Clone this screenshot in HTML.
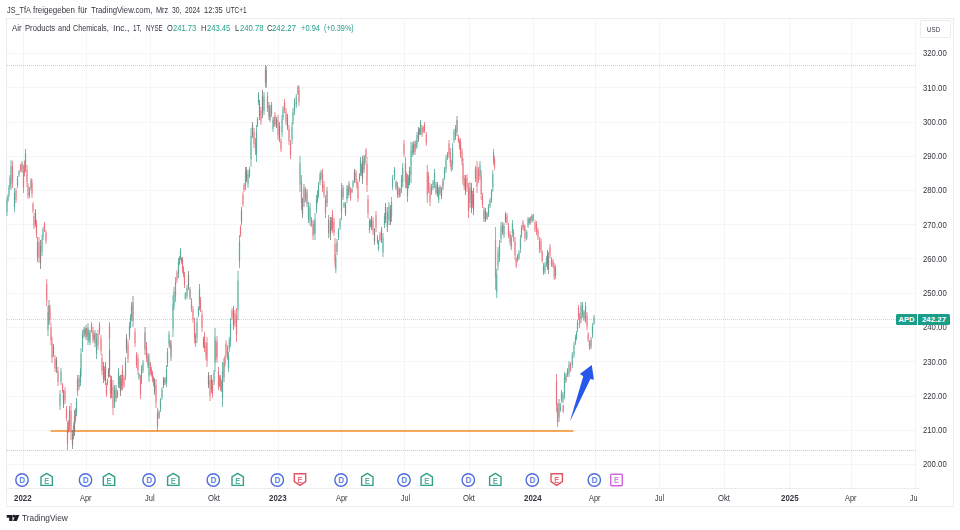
<!DOCTYPE html>
<html><head><meta charset="utf-8"><title>APD</title>
<style>
html,body{margin:0;padding:0;background:#fff;}
body{width:960px;height:530px;position:relative;overflow:hidden;font-family:"Liberation Sans",sans-serif;color:#33363f;}
.t{position:absolute;white-space:nowrap;line-height:10px;transform-origin:0 0;filter:blur(0.3px);}
#frame{position:absolute;left:6px;top:18px;width:946px;height:487px;border:1px solid #ececf0;}
svg{position:absolute;left:0;top:0;}
svg text{font-family:"Liberation Sans",sans-serif;}
#tline{position:absolute;left:7px;top:488px;width:913px;height:1px;background:#ececf0;}
#usd{position:absolute;left:920px;top:20px;width:29px;height:16px;border:1px solid #ececf0;border-radius:2px;background:#fff;}
#apd{position:absolute;left:896px;top:314px;height:11px;width:21px;background:#1a9e88;color:#fff;font-size:7.6px;font-weight:bold;line-height:11px;text-align:center;border-radius:1.5px 0 0 1.5px;}
#last{position:absolute;left:918px;top:314px;height:11px;width:32px;background:#1a9e88;color:#fff;font-size:7.9px;font-weight:bold;line-height:11px;text-align:center;border-radius:0 1.5px 1.5px 0;}
</style></head>
<body>
<div id="frame"></div>
<svg width="960" height="530" viewBox="0 0 960 530">
<defs><filter id="bl" x="-5%" y="-5%" width="110%" height="110%"><feGaussianBlur stdDeviation="0.42"/></filter></defs>
<line x1="23.5" y1="19" x2="23.5" y2="488" stroke="#f5f5f7" stroke-width="1"/>
<line x1="86.5" y1="19" x2="86.5" y2="488" stroke="#f5f5f7" stroke-width="1"/>
<line x1="150.5" y1="19" x2="150.5" y2="488" stroke="#f5f5f7" stroke-width="1"/>
<line x1="214.5" y1="19" x2="214.5" y2="488" stroke="#f5f5f7" stroke-width="1"/>
<line x1="278.5" y1="19" x2="278.5" y2="488" stroke="#f5f5f7" stroke-width="1"/>
<line x1="341.5" y1="19" x2="341.5" y2="488" stroke="#f5f5f7" stroke-width="1"/>
<line x1="404.5" y1="19" x2="404.5" y2="488" stroke="#f5f5f7" stroke-width="1"/>
<line x1="469.5" y1="19" x2="469.5" y2="488" stroke="#f5f5f7" stroke-width="1"/>
<line x1="533.5" y1="19" x2="533.5" y2="488" stroke="#f5f5f7" stroke-width="1"/>
<line x1="595.5" y1="19" x2="595.5" y2="488" stroke="#f5f5f7" stroke-width="1"/>
<line x1="659.5" y1="19" x2="659.5" y2="488" stroke="#f5f5f7" stroke-width="1"/>
<line x1="724.5" y1="19" x2="724.5" y2="488" stroke="#f5f5f7" stroke-width="1"/>
<line x1="789.8" y1="19" x2="789.8" y2="488" stroke="#f5f5f7" stroke-width="1"/>
<line x1="851.5" y1="19" x2="851.5" y2="488" stroke="#f5f5f7" stroke-width="1"/>
<line x1="915.5" y1="19" x2="915.5" y2="488" stroke="#f5f5f7" stroke-width="1"/>
<line x1="7" y1="53.5" x2="917" y2="53.5" stroke="#f5f5f7" stroke-width="1"/>
<line x1="7" y1="87.5" x2="917" y2="87.5" stroke="#f5f5f7" stroke-width="1"/>
<line x1="7" y1="122.5" x2="917" y2="122.5" stroke="#f5f5f7" stroke-width="1"/>
<line x1="7" y1="156.5" x2="917" y2="156.5" stroke="#f5f5f7" stroke-width="1"/>
<line x1="7" y1="190.5" x2="917" y2="190.5" stroke="#f5f5f7" stroke-width="1"/>
<line x1="7" y1="224.5" x2="917" y2="224.5" stroke="#f5f5f7" stroke-width="1"/>
<line x1="7" y1="258.5" x2="917" y2="258.5" stroke="#f5f5f7" stroke-width="1"/>
<line x1="7" y1="293.5" x2="917" y2="293.5" stroke="#f5f5f7" stroke-width="1"/>
<line x1="7" y1="327.5" x2="917" y2="327.5" stroke="#f5f5f7" stroke-width="1"/>
<line x1="7" y1="361.5" x2="917" y2="361.5" stroke="#f5f5f7" stroke-width="1"/>
<line x1="7" y1="396.5" x2="917" y2="396.5" stroke="#f5f5f7" stroke-width="1"/>
<line x1="7" y1="430.5" x2="917" y2="430.5" stroke="#f5f5f7" stroke-width="1"/>
<line x1="7" y1="464.5" x2="917" y2="464.5" stroke="#f5f5f7" stroke-width="1"/>
<line x1="7" y1="65.5" x2="917" y2="65.5" stroke="#c9ccd3" stroke-width="1" stroke-dasharray="1 1"/>
<line x1="7" y1="450.5" x2="917" y2="450.5" stroke="#c9ccd3" stroke-width="1" stroke-dasharray="1 1"/>
<line x1="7" y1="319.5" x2="896" y2="319.5" stroke="#c4ddd8" stroke-width="1" stroke-dasharray="1 1"/>
<line x1="50.5" y1="431" x2="573.5" y2="431" stroke="#f38b25" stroke-width="1.6"/>
<g filter="url(#bl)"><line x1="7.0" y1="200.8" x2="7.0" y2="212.2" stroke="#7ccbbd" stroke-width="1.5" opacity="0.62"/><line x1="7.0" y1="197.0" x2="7.0" y2="216.0" stroke="#27907c" stroke-width="0.75" opacity="0.85"/><line x1="8.0" y1="195.9" x2="8.0" y2="200.6" stroke="#7ccbbd" stroke-width="1.5" opacity="0.62"/><line x1="8.0" y1="194.3" x2="8.0" y2="202.1" stroke="#27907c" stroke-width="0.75" opacity="0.85"/><line x1="9.0" y1="187.4" x2="9.0" y2="194.6" stroke="#7ccbbd" stroke-width="1.5" opacity="0.62"/><line x1="9.0" y1="185.0" x2="9.0" y2="197.0" stroke="#27907c" stroke-width="0.75" opacity="0.85"/><line x1="10.0" y1="177.7" x2="10.0" y2="185.7" stroke="#7ccbbd" stroke-width="1.5" opacity="0.62"/><line x1="10.0" y1="175.0" x2="10.0" y2="188.4" stroke="#27907c" stroke-width="0.75" opacity="0.85"/><line x1="11.0" y1="166.0" x2="11.0" y2="184.0" stroke="#7ccbbd" stroke-width="1.5" opacity="0.62"/><line x1="11.0" y1="160.0" x2="11.0" y2="190.0" stroke="#27907c" stroke-width="0.75" opacity="0.85"/><line x1="12.5" y1="166.4" x2="12.5" y2="182.6" stroke="#f5949d" stroke-width="1.5" opacity="0.62"/><line x1="12.5" y1="161.0" x2="12.5" y2="188.0" stroke="#e04857" stroke-width="0.75" opacity="0.85"/><line x1="14.5" y1="192.8" x2="14.5" y2="207.2" stroke="#7ccbbd" stroke-width="1.5" opacity="0.62"/><line x1="14.5" y1="188.0" x2="14.5" y2="212.0" stroke="#27907c" stroke-width="0.75" opacity="0.85"/><line x1="16.0" y1="191.0" x2="16.0" y2="200.0" stroke="#f5949d" stroke-width="1.5" opacity="0.62"/><line x1="16.0" y1="188.0" x2="16.0" y2="203.0" stroke="#e04857" stroke-width="0.75" opacity="0.85"/><line x1="17.5" y1="178.4" x2="17.5" y2="185.6" stroke="#7ccbbd" stroke-width="1.5" opacity="0.62"/><line x1="17.5" y1="176.0" x2="17.5" y2="188.0" stroke="#27907c" stroke-width="0.75" opacity="0.85"/><line x1="19.0" y1="171.4" x2="19.0" y2="175.6" stroke="#7ccbbd" stroke-width="1.5" opacity="0.62"/><line x1="19.0" y1="170.0" x2="19.0" y2="177.0" stroke="#27907c" stroke-width="0.75" opacity="0.85"/><line x1="20.5" y1="165.6" x2="20.5" y2="170.4" stroke="#f5949d" stroke-width="1.5" opacity="0.62"/><line x1="20.5" y1="164.0" x2="20.5" y2="172.0" stroke="#e04857" stroke-width="0.75" opacity="0.85"/><line x1="22.0" y1="163.4" x2="22.0" y2="170.6" stroke="#b8a9aa" stroke-width="1.5" opacity="0.62"/><line x1="22.0" y1="161.0" x2="22.0" y2="173.0" stroke="#5e5a5b" stroke-width="0.75" opacity="0.85"/><line x1="23.5" y1="170.6" x2="23.5" y2="187.4" stroke="#f5949d" stroke-width="1.5" opacity="0.62"/><line x1="23.5" y1="165.0" x2="23.5" y2="193.0" stroke="#e04857" stroke-width="0.75" opacity="0.85"/><line x1="24.5" y1="163.6" x2="24.5" y2="173.2" stroke="#f5949d" stroke-width="1.5" opacity="0.62"/><line x1="24.5" y1="160.4" x2="24.5" y2="176.4" stroke="#e04857" stroke-width="0.75" opacity="0.85"/><line x1="25.5" y1="153.6" x2="25.5" y2="167.4" stroke="#7ccbbd" stroke-width="1.5" opacity="0.62"/><line x1="25.5" y1="149.0" x2="25.5" y2="172.0" stroke="#27907c" stroke-width="0.75" opacity="0.85"/><line x1="27.0" y1="169.4" x2="27.0" y2="182.6" stroke="#f5949d" stroke-width="1.5" opacity="0.62"/><line x1="27.0" y1="165.0" x2="27.0" y2="187.0" stroke="#e04857" stroke-width="0.75" opacity="0.85"/><line x1="28.0" y1="186.2" x2="28.0" y2="195.8" stroke="#f5949d" stroke-width="1.5" opacity="0.62"/><line x1="28.0" y1="183.0" x2="28.0" y2="199.0" stroke="#e04857" stroke-width="0.75" opacity="0.85"/><line x1="29.5" y1="189.2" x2="29.5" y2="195.8" stroke="#7ccbbd" stroke-width="1.5" opacity="0.62"/><line x1="29.5" y1="187.0" x2="29.5" y2="198.0" stroke="#27907c" stroke-width="0.75" opacity="0.85"/><line x1="31.0" y1="180.4" x2="31.0" y2="187.6" stroke="#b8a9aa" stroke-width="1.5" opacity="0.62"/><line x1="31.0" y1="178.0" x2="31.0" y2="190.0" stroke="#5e5a5b" stroke-width="0.75" opacity="0.85"/><line x1="32.0" y1="182.8" x2="32.0" y2="194.2" stroke="#f5949d" stroke-width="1.5" opacity="0.62"/><line x1="32.0" y1="179.0" x2="32.0" y2="198.0" stroke="#e04857" stroke-width="0.75" opacity="0.85"/><line x1="33.0" y1="204.2" x2="33.0" y2="210.8" stroke="#f5949d" stroke-width="1.5" opacity="0.62"/><line x1="33.0" y1="202.0" x2="33.0" y2="213.0" stroke="#e04857" stroke-width="0.75" opacity="0.85"/><line x1="34.0" y1="216.2" x2="34.0" y2="225.8" stroke="#f5949d" stroke-width="1.5" opacity="0.62"/><line x1="34.0" y1="213.0" x2="34.0" y2="229.0" stroke="#e04857" stroke-width="0.75" opacity="0.85"/><line x1="35.5" y1="212.6" x2="35.5" y2="223.4" stroke="#b8a9aa" stroke-width="1.5" opacity="0.62"/><line x1="35.5" y1="209.0" x2="35.5" y2="227.0" stroke="#5e5a5b" stroke-width="0.75" opacity="0.85"/><line x1="36.5" y1="223.6" x2="36.5" y2="234.4" stroke="#f5949d" stroke-width="1.5" opacity="0.62"/><line x1="36.5" y1="220.0" x2="36.5" y2="238.0" stroke="#e04857" stroke-width="0.75" opacity="0.85"/><line x1="37.5" y1="242.0" x2="37.5" y2="257.0" stroke="#7ccbbd" stroke-width="1.5" opacity="0.62"/><line x1="37.5" y1="237.0" x2="37.5" y2="262.0" stroke="#27907c" stroke-width="0.75" opacity="0.85"/><line x1="39.0" y1="242.2" x2="39.0" y2="257.8" stroke="#f5949d" stroke-width="1.5" opacity="0.62"/><line x1="39.0" y1="237.0" x2="39.0" y2="263.0" stroke="#e04857" stroke-width="0.75" opacity="0.85"/><line x1="40.5" y1="245.8" x2="40.5" y2="263.2" stroke="#b8a9aa" stroke-width="1.5" opacity="0.62"/><line x1="40.5" y1="240.0" x2="40.5" y2="269.0" stroke="#5e5a5b" stroke-width="0.75" opacity="0.85"/><line x1="42.0" y1="239.2" x2="42.0" y2="251.8" stroke="#7ccbbd" stroke-width="1.5" opacity="0.62"/><line x1="42.0" y1="235.0" x2="42.0" y2="256.0" stroke="#27907c" stroke-width="0.75" opacity="0.85"/><line x1="43.0" y1="229.6" x2="43.0" y2="237.4" stroke="#7ccbbd" stroke-width="1.5" opacity="0.62"/><line x1="43.0" y1="227.0" x2="43.0" y2="240.0" stroke="#27907c" stroke-width="0.75" opacity="0.85"/><line x1="44.5" y1="224.0" x2="44.5" y2="230.0" stroke="#f5949d" stroke-width="1.5" opacity="0.62"/><line x1="44.5" y1="222.0" x2="44.5" y2="232.0" stroke="#e04857" stroke-width="0.75" opacity="0.85"/><line x1="46.0" y1="232.8" x2="46.0" y2="241.2" stroke="#f5949d" stroke-width="1.5" opacity="0.62"/><line x1="46.0" y1="230.0" x2="46.0" y2="244.0" stroke="#e04857" stroke-width="0.75" opacity="0.85"/><line x1="46.7" y1="284.4" x2="46.7" y2="300.6" stroke="#f5949d" stroke-width="1.5" opacity="0.62"/><line x1="46.7" y1="279.0" x2="46.7" y2="306.0" stroke="#e04857" stroke-width="0.75" opacity="0.85"/><line x1="48.0" y1="312.0" x2="48.0" y2="330.0" stroke="#7ccbbd" stroke-width="1.5" opacity="0.62"/><line x1="48.0" y1="306.0" x2="48.0" y2="336.0" stroke="#27907c" stroke-width="0.75" opacity="0.85"/><line x1="49.0" y1="305.0" x2="49.0" y2="320.0" stroke="#b8a9aa" stroke-width="1.5" opacity="0.62"/><line x1="49.0" y1="300.0" x2="49.0" y2="325.0" stroke="#5e5a5b" stroke-width="0.75" opacity="0.85"/><line x1="50.0" y1="308.6" x2="50.0" y2="319.4" stroke="#f5949d" stroke-width="1.5" opacity="0.62"/><line x1="50.0" y1="305.0" x2="50.0" y2="323.0" stroke="#e04857" stroke-width="0.75" opacity="0.85"/><line x1="51.0" y1="327.4" x2="51.0" y2="340.6" stroke="#f5949d" stroke-width="1.5" opacity="0.62"/><line x1="51.0" y1="323.0" x2="51.0" y2="345.0" stroke="#e04857" stroke-width="0.75" opacity="0.85"/><line x1="52.0" y1="342.2" x2="52.0" y2="357.8" stroke="#f5949d" stroke-width="1.5" opacity="0.62"/><line x1="52.0" y1="337.0" x2="52.0" y2="363.0" stroke="#e04857" stroke-width="0.75" opacity="0.85"/><line x1="53.5" y1="346.6" x2="53.5" y2="354.4" stroke="#b8a9aa" stroke-width="1.5" opacity="0.62"/><line x1="53.5" y1="344.0" x2="53.5" y2="357.0" stroke="#5e5a5b" stroke-width="0.75" opacity="0.85"/><line x1="55.0" y1="358.4" x2="55.0" y2="368.6" stroke="#f5949d" stroke-width="1.5" opacity="0.62"/><line x1="55.0" y1="355.0" x2="55.0" y2="372.0" stroke="#e04857" stroke-width="0.75" opacity="0.85"/><line x1="56.5" y1="360.2" x2="56.5" y2="369.8" stroke="#b8a9aa" stroke-width="1.5" opacity="0.62"/><line x1="56.5" y1="357.0" x2="56.5" y2="373.0" stroke="#5e5a5b" stroke-width="0.75" opacity="0.85"/><line x1="58.0" y1="370.8" x2="58.0" y2="382.2" stroke="#f5949d" stroke-width="1.5" opacity="0.62"/><line x1="58.0" y1="367.0" x2="58.0" y2="386.0" stroke="#e04857" stroke-width="0.75" opacity="0.85"/><line x1="60.0" y1="394.0" x2="60.0" y2="406.0" stroke="#7ccbbd" stroke-width="1.5" opacity="0.62"/><line x1="60.0" y1="390.0" x2="60.0" y2="410.0" stroke="#27907c" stroke-width="0.75" opacity="0.85"/><line x1="61.0" y1="371.4" x2="61.0" y2="381.6" stroke="#7ccbbd" stroke-width="1.5" opacity="0.62"/><line x1="61.0" y1="368.0" x2="61.0" y2="385.0" stroke="#27907c" stroke-width="0.75" opacity="0.85"/><line x1="62.5" y1="385.0" x2="62.5" y2="391.0" stroke="#f5949d" stroke-width="1.5" opacity="0.62"/><line x1="62.5" y1="383.0" x2="62.5" y2="393.0" stroke="#e04857" stroke-width="0.75" opacity="0.85"/><line x1="63.5" y1="393.6" x2="63.5" y2="404.4" stroke="#b8a9aa" stroke-width="1.5" opacity="0.62"/><line x1="63.5" y1="390.0" x2="63.5" y2="408.0" stroke="#5e5a5b" stroke-width="0.75" opacity="0.85"/><line x1="65.0" y1="390.4" x2="65.0" y2="400.6" stroke="#f5949d" stroke-width="1.5" opacity="0.62"/><line x1="65.0" y1="387.0" x2="65.0" y2="404.0" stroke="#e04857" stroke-width="0.75" opacity="0.85"/><line x1="66.5" y1="409.0" x2="66.5" y2="418.0" stroke="#f5949d" stroke-width="1.5" opacity="0.62"/><line x1="66.5" y1="406.0" x2="66.5" y2="421.0" stroke="#e04857" stroke-width="0.75" opacity="0.85"/><line x1="67.5" y1="426.8" x2="67.5" y2="444.2" stroke="#f5949d" stroke-width="1.5" opacity="0.62"/><line x1="67.5" y1="421.0" x2="67.5" y2="450.0" stroke="#e04857" stroke-width="0.75" opacity="0.85"/><line x1="68.5" y1="422.8" x2="68.5" y2="430.3" stroke="#f5949d" stroke-width="1.5" opacity="0.62"/><line x1="68.5" y1="420.3" x2="68.5" y2="432.8" stroke="#e04857" stroke-width="0.75" opacity="0.85"/><line x1="69.5" y1="410.8" x2="69.5" y2="425.2" stroke="#7ccbbd" stroke-width="1.5" opacity="0.62"/><line x1="69.5" y1="406.0" x2="69.5" y2="430.0" stroke="#27907c" stroke-width="0.75" opacity="0.85"/><line x1="71.0" y1="410.4" x2="71.0" y2="432.6" stroke="#f5949d" stroke-width="1.5" opacity="0.62"/><line x1="71.0" y1="403.0" x2="71.0" y2="440.0" stroke="#e04857" stroke-width="0.75" opacity="0.85"/><line x1="72.5" y1="433.8" x2="72.5" y2="445.2" stroke="#b8a9aa" stroke-width="1.5" opacity="0.62"/><line x1="72.5" y1="430.0" x2="72.5" y2="449.0" stroke="#5e5a5b" stroke-width="0.75" opacity="0.85"/><line x1="73.5" y1="426.0" x2="73.5" y2="436.0" stroke="#7ccbbd" stroke-width="1.5" opacity="0.62"/><line x1="73.5" y1="422.7" x2="73.5" y2="439.3" stroke="#27907c" stroke-width="0.75" opacity="0.85"/><line x1="74.5" y1="415.2" x2="74.5" y2="430.8" stroke="#b8a9aa" stroke-width="1.5" opacity="0.62"/><line x1="74.5" y1="410.0" x2="74.5" y2="436.0" stroke="#5e5a5b" stroke-width="0.75" opacity="0.85"/><line x1="75.5" y1="411.1" x2="75.5" y2="419.7" stroke="#f5949d" stroke-width="1.5" opacity="0.62"/><line x1="75.5" y1="408.2" x2="75.5" y2="422.6" stroke="#e04857" stroke-width="0.75" opacity="0.85"/><line x1="76.5" y1="401.6" x2="76.5" y2="412.4" stroke="#7ccbbd" stroke-width="1.5" opacity="0.62"/><line x1="76.5" y1="398.0" x2="76.5" y2="416.0" stroke="#27907c" stroke-width="0.75" opacity="0.85"/><line x1="77.5" y1="379.2" x2="77.5" y2="391.8" stroke="#f5949d" stroke-width="1.5" opacity="0.62"/><line x1="77.5" y1="375.0" x2="77.5" y2="396.0" stroke="#e04857" stroke-width="0.75" opacity="0.85"/><line x1="79.0" y1="378.0" x2="79.0" y2="387.0" stroke="#b8a9aa" stroke-width="1.5" opacity="0.62"/><line x1="79.0" y1="375.0" x2="79.0" y2="390.0" stroke="#5e5a5b" stroke-width="0.75" opacity="0.85"/><line x1="80.5" y1="371.6" x2="80.5" y2="382.4" stroke="#7ccbbd" stroke-width="1.5" opacity="0.62"/><line x1="80.5" y1="368.0" x2="80.5" y2="386.0" stroke="#27907c" stroke-width="0.75" opacity="0.85"/><line x1="81.0" y1="353.8" x2="81.0" y2="371.2" stroke="#7ccbbd" stroke-width="1.5" opacity="0.62"/><line x1="81.0" y1="348.0" x2="81.0" y2="377.0" stroke="#27907c" stroke-width="0.75" opacity="0.85"/><line x1="82.5" y1="334.4" x2="82.5" y2="347.6" stroke="#7ccbbd" stroke-width="1.5" opacity="0.62"/><line x1="82.5" y1="330.0" x2="82.5" y2="352.0" stroke="#27907c" stroke-width="0.75" opacity="0.85"/><line x1="84.0" y1="329.2" x2="84.0" y2="335.8" stroke="#b8a9aa" stroke-width="1.5" opacity="0.62"/><line x1="84.0" y1="327.0" x2="84.0" y2="338.0" stroke="#5e5a5b" stroke-width="0.75" opacity="0.85"/><line x1="85.0" y1="329.1" x2="85.0" y2="333.2" stroke="#7ccbbd" stroke-width="1.5" opacity="0.62"/><line x1="85.0" y1="327.7" x2="85.0" y2="334.6" stroke="#27907c" stroke-width="0.75" opacity="0.85"/><line x1="86.0" y1="328.0" x2="86.0" y2="337.0" stroke="#b8a9aa" stroke-width="1.5" opacity="0.62"/><line x1="86.0" y1="325.0" x2="86.0" y2="340.0" stroke="#5e5a5b" stroke-width="0.75" opacity="0.85"/><line x1="87.0" y1="329.8" x2="87.0" y2="335.4" stroke="#f5949d" stroke-width="1.5" opacity="0.62"/><line x1="87.0" y1="328.0" x2="87.0" y2="337.2" stroke="#e04857" stroke-width="0.75" opacity="0.85"/><line x1="88.0" y1="327.4" x2="88.0" y2="340.6" stroke="#7ccbbd" stroke-width="1.5" opacity="0.62"/><line x1="88.0" y1="323.0" x2="88.0" y2="345.0" stroke="#27907c" stroke-width="0.75" opacity="0.85"/><line x1="89.0" y1="332.1" x2="89.0" y2="339.8" stroke="#7ccbbd" stroke-width="1.5" opacity="0.62"/><line x1="89.0" y1="329.6" x2="89.0" y2="342.3" stroke="#27907c" stroke-width="0.75" opacity="0.85"/><line x1="90.0" y1="333.0" x2="90.0" y2="342.0" stroke="#7ccbbd" stroke-width="1.5" opacity="0.62"/><line x1="90.0" y1="330.0" x2="90.0" y2="345.0" stroke="#27907c" stroke-width="0.75" opacity="0.85"/><line x1="91.5" y1="324.2" x2="91.5" y2="330.8" stroke="#f5949d" stroke-width="1.5" opacity="0.62"/><line x1="91.5" y1="322.0" x2="91.5" y2="333.0" stroke="#e04857" stroke-width="0.75" opacity="0.85"/><line x1="93.0" y1="330.2" x2="93.0" y2="339.8" stroke="#f5949d" stroke-width="1.5" opacity="0.62"/><line x1="93.0" y1="327.0" x2="93.0" y2="343.0" stroke="#e04857" stroke-width="0.75" opacity="0.85"/><line x1="94.0" y1="334.4" x2="94.0" y2="339.5" stroke="#f5949d" stroke-width="1.5" opacity="0.62"/><line x1="94.0" y1="332.7" x2="94.0" y2="341.2" stroke="#e04857" stroke-width="0.75" opacity="0.85"/><line x1="95.0" y1="333.4" x2="95.0" y2="343.6" stroke="#b8a9aa" stroke-width="1.5" opacity="0.62"/><line x1="95.0" y1="330.0" x2="95.0" y2="347.0" stroke="#5e5a5b" stroke-width="0.75" opacity="0.85"/><line x1="96.5" y1="338.2" x2="96.5" y2="353.8" stroke="#7ccbbd" stroke-width="1.5" opacity="0.62"/><line x1="96.5" y1="333.0" x2="96.5" y2="359.0" stroke="#27907c" stroke-width="0.75" opacity="0.85"/><line x1="98.0" y1="334.0" x2="98.0" y2="346.0" stroke="#f5949d" stroke-width="1.5" opacity="0.62"/><line x1="98.0" y1="330.0" x2="98.0" y2="350.0" stroke="#e04857" stroke-width="0.75" opacity="0.85"/><line x1="99.5" y1="324.6" x2="99.5" y2="332.4" stroke="#f5949d" stroke-width="1.5" opacity="0.62"/><line x1="99.5" y1="322.0" x2="99.5" y2="335.0" stroke="#e04857" stroke-width="0.75" opacity="0.85"/><line x1="101.0" y1="339.0" x2="101.0" y2="351.0" stroke="#f5949d" stroke-width="1.5" opacity="0.62"/><line x1="101.0" y1="335.0" x2="101.0" y2="355.0" stroke="#e04857" stroke-width="0.75" opacity="0.85"/><line x1="102.0" y1="358.2" x2="102.0" y2="370.8" stroke="#f5949d" stroke-width="1.5" opacity="0.62"/><line x1="102.0" y1="354.0" x2="102.0" y2="375.0" stroke="#e04857" stroke-width="0.75" opacity="0.85"/><line x1="103.5" y1="366.2" x2="103.5" y2="378.8" stroke="#b8a9aa" stroke-width="1.5" opacity="0.62"/><line x1="103.5" y1="362.0" x2="103.5" y2="383.0" stroke="#5e5a5b" stroke-width="0.75" opacity="0.85"/><line x1="104.5" y1="369.4" x2="104.5" y2="377.9" stroke="#f5949d" stroke-width="1.5" opacity="0.62"/><line x1="104.5" y1="366.5" x2="104.5" y2="380.8" stroke="#e04857" stroke-width="0.75" opacity="0.85"/><line x1="105.5" y1="366.6" x2="105.5" y2="380.4" stroke="#b8a9aa" stroke-width="1.5" opacity="0.62"/><line x1="105.5" y1="362.0" x2="105.5" y2="385.0" stroke="#5e5a5b" stroke-width="0.75" opacity="0.85"/><line x1="106.5" y1="385.8" x2="106.5" y2="394.2" stroke="#f5949d" stroke-width="1.5" opacity="0.62"/><line x1="106.5" y1="383.0" x2="106.5" y2="397.0" stroke="#e04857" stroke-width="0.75" opacity="0.85"/><line x1="107.5" y1="379.9" x2="107.5" y2="384.2" stroke="#f5949d" stroke-width="1.5" opacity="0.62"/><line x1="107.5" y1="378.4" x2="107.5" y2="385.6" stroke="#e04857" stroke-width="0.75" opacity="0.85"/><line x1="108.5" y1="370.0" x2="108.5" y2="376.0" stroke="#b8a9aa" stroke-width="1.5" opacity="0.62"/><line x1="108.5" y1="368.0" x2="108.5" y2="378.0" stroke="#5e5a5b" stroke-width="0.75" opacity="0.85"/><line x1="109.5" y1="326.2" x2="109.5" y2="338.8" stroke="#f5949d" stroke-width="1.5" opacity="0.62"/><line x1="109.5" y1="322.0" x2="109.5" y2="343.0" stroke="#e04857" stroke-width="0.75" opacity="0.85"/><line x1="109.6" y1="349.8" x2="109.6" y2="370.2" stroke="#b8a9aa" stroke-width="1.5" opacity="0.62"/><line x1="109.6" y1="343.0" x2="109.6" y2="377.0" stroke="#5e5a5b" stroke-width="0.75" opacity="0.85"/><line x1="110.5" y1="379.8" x2="110.5" y2="394.2" stroke="#f5949d" stroke-width="1.5" opacity="0.62"/><line x1="110.5" y1="375.0" x2="110.5" y2="399.0" stroke="#e04857" stroke-width="0.75" opacity="0.85"/><line x1="111.5" y1="380.4" x2="111.5" y2="393.6" stroke="#b8a9aa" stroke-width="1.5" opacity="0.62"/><line x1="111.5" y1="376.0" x2="111.5" y2="398.0" stroke="#5e5a5b" stroke-width="0.75" opacity="0.85"/><line x1="113.0" y1="387.0" x2="113.0" y2="408.0" stroke="#f5949d" stroke-width="1.5" opacity="0.62"/><line x1="113.0" y1="380.0" x2="113.0" y2="415.0" stroke="#e04857" stroke-width="0.75" opacity="0.85"/><line x1="114.5" y1="389.6" x2="114.5" y2="403.4" stroke="#7ccbbd" stroke-width="1.5" opacity="0.62"/><line x1="114.5" y1="385.0" x2="114.5" y2="408.0" stroke="#27907c" stroke-width="0.75" opacity="0.85"/><line x1="116.0" y1="388.4" x2="116.0" y2="398.6" stroke="#b8a9aa" stroke-width="1.5" opacity="0.62"/><line x1="116.0" y1="385.0" x2="116.0" y2="402.0" stroke="#5e5a5b" stroke-width="0.75" opacity="0.85"/><line x1="117.5" y1="391.6" x2="117.5" y2="396.4" stroke="#f5949d" stroke-width="1.5" opacity="0.62"/><line x1="117.5" y1="390.0" x2="117.5" y2="398.0" stroke="#e04857" stroke-width="0.75" opacity="0.85"/><line x1="118.5" y1="372.0" x2="118.5" y2="384.0" stroke="#7ccbbd" stroke-width="1.5" opacity="0.62"/><line x1="118.5" y1="368.0" x2="118.5" y2="388.0" stroke="#27907c" stroke-width="0.75" opacity="0.85"/><line x1="119.5" y1="378.3" x2="119.5" y2="385.7" stroke="#7ccbbd" stroke-width="1.5" opacity="0.62"/><line x1="119.5" y1="375.8" x2="119.5" y2="388.2" stroke="#27907c" stroke-width="0.75" opacity="0.85"/><line x1="120.5" y1="379.2" x2="120.5" y2="391.8" stroke="#b8a9aa" stroke-width="1.5" opacity="0.62"/><line x1="120.5" y1="375.0" x2="120.5" y2="396.0" stroke="#5e5a5b" stroke-width="0.75" opacity="0.85"/><line x1="121.5" y1="377.6" x2="121.5" y2="387.2" stroke="#f5949d" stroke-width="1.5" opacity="0.62"/><line x1="121.5" y1="374.4" x2="121.5" y2="390.4" stroke="#e04857" stroke-width="0.75" opacity="0.85"/><line x1="122.5" y1="370.0" x2="122.5" y2="385.0" stroke="#f5949d" stroke-width="1.5" opacity="0.62"/><line x1="122.5" y1="365.0" x2="122.5" y2="390.0" stroke="#e04857" stroke-width="0.75" opacity="0.85"/><line x1="124.0" y1="377.6" x2="124.0" y2="385.4" stroke="#f5949d" stroke-width="1.5" opacity="0.62"/><line x1="124.0" y1="375.0" x2="124.0" y2="388.0" stroke="#e04857" stroke-width="0.75" opacity="0.85"/><line x1="125.5" y1="361.6" x2="125.5" y2="375.4" stroke="#7ccbbd" stroke-width="1.5" opacity="0.62"/><line x1="125.5" y1="357.0" x2="125.5" y2="380.0" stroke="#27907c" stroke-width="0.75" opacity="0.85"/><line x1="126.5" y1="337.8" x2="126.5" y2="349.2" stroke="#b8a9aa" stroke-width="1.5" opacity="0.62"/><line x1="126.5" y1="334.0" x2="126.5" y2="353.0" stroke="#5e5a5b" stroke-width="0.75" opacity="0.85"/><line x1="128.0" y1="344.6" x2="128.0" y2="358.4" stroke="#f5949d" stroke-width="1.5" opacity="0.62"/><line x1="128.0" y1="340.0" x2="128.0" y2="363.0" stroke="#e04857" stroke-width="0.75" opacity="0.85"/><line x1="129.5" y1="325.6" x2="129.5" y2="336.4" stroke="#7ccbbd" stroke-width="1.5" opacity="0.62"/><line x1="129.5" y1="322.0" x2="129.5" y2="340.0" stroke="#27907c" stroke-width="0.75" opacity="0.85"/><line x1="130.5" y1="317.1" x2="130.5" y2="325.5" stroke="#7ccbbd" stroke-width="1.5" opacity="0.62"/><line x1="130.5" y1="314.3" x2="130.5" y2="328.3" stroke="#27907c" stroke-width="0.75" opacity="0.85"/><line x1="131.5" y1="305.8" x2="131.5" y2="317.2" stroke="#7ccbbd" stroke-width="1.5" opacity="0.62"/><line x1="131.5" y1="302.0" x2="131.5" y2="321.0" stroke="#27907c" stroke-width="0.75" opacity="0.85"/><line x1="133.0" y1="302.2" x2="133.0" y2="320.8" stroke="#b8a9aa" stroke-width="1.5" opacity="0.62"/><line x1="133.0" y1="296.0" x2="133.0" y2="327.0" stroke="#5e5a5b" stroke-width="0.75" opacity="0.85"/><line x1="135.0" y1="331.8" x2="135.0" y2="343.2" stroke="#f5949d" stroke-width="1.5" opacity="0.62"/><line x1="135.0" y1="328.0" x2="135.0" y2="347.0" stroke="#e04857" stroke-width="0.75" opacity="0.85"/><line x1="136.5" y1="355.2" x2="136.5" y2="364.8" stroke="#f5949d" stroke-width="1.5" opacity="0.62"/><line x1="136.5" y1="352.0" x2="136.5" y2="368.0" stroke="#e04857" stroke-width="0.75" opacity="0.85"/><line x1="138.0" y1="358.2" x2="138.0" y2="370.8" stroke="#f5949d" stroke-width="1.5" opacity="0.62"/><line x1="138.0" y1="354.0" x2="138.0" y2="375.0" stroke="#e04857" stroke-width="0.75" opacity="0.85"/><line x1="139.0" y1="374.4" x2="139.0" y2="378.6" stroke="#7ccbbd" stroke-width="1.5" opacity="0.62"/><line x1="139.0" y1="373.0" x2="139.0" y2="380.0" stroke="#27907c" stroke-width="0.75" opacity="0.85"/><line x1="140.5" y1="379.8" x2="140.5" y2="394.2" stroke="#f5949d" stroke-width="1.5" opacity="0.62"/><line x1="140.5" y1="375.0" x2="140.5" y2="399.0" stroke="#e04857" stroke-width="0.75" opacity="0.85"/><line x1="141.5" y1="368.8" x2="141.5" y2="380.2" stroke="#7ccbbd" stroke-width="1.5" opacity="0.62"/><line x1="141.5" y1="365.0" x2="141.5" y2="384.0" stroke="#27907c" stroke-width="0.75" opacity="0.85"/><line x1="143.0" y1="362.6" x2="143.0" y2="370.4" stroke="#7ccbbd" stroke-width="1.5" opacity="0.62"/><line x1="143.0" y1="360.0" x2="143.0" y2="373.0" stroke="#27907c" stroke-width="0.75" opacity="0.85"/><line x1="145.0" y1="332.6" x2="145.0" y2="349.4" stroke="#b8a9aa" stroke-width="1.5" opacity="0.62"/><line x1="145.0" y1="327.0" x2="145.0" y2="355.0" stroke="#5e5a5b" stroke-width="0.75" opacity="0.85"/><line x1="146.5" y1="346.0" x2="146.5" y2="358.0" stroke="#f5949d" stroke-width="1.5" opacity="0.62"/><line x1="146.5" y1="342.0" x2="146.5" y2="362.0" stroke="#e04857" stroke-width="0.75" opacity="0.85"/><line x1="148.0" y1="356.0" x2="148.0" y2="365.0" stroke="#b8a9aa" stroke-width="1.5" opacity="0.62"/><line x1="148.0" y1="353.0" x2="148.0" y2="368.0" stroke="#5e5a5b" stroke-width="0.75" opacity="0.85"/><line x1="149.0" y1="359.6" x2="149.0" y2="376.4" stroke="#7ccbbd" stroke-width="1.5" opacity="0.62"/><line x1="149.0" y1="354.0" x2="149.0" y2="382.0" stroke="#27907c" stroke-width="0.75" opacity="0.85"/><line x1="150.5" y1="364.6" x2="150.5" y2="372.4" stroke="#f5949d" stroke-width="1.5" opacity="0.62"/><line x1="150.5" y1="362.0" x2="150.5" y2="375.0" stroke="#e04857" stroke-width="0.75" opacity="0.85"/><line x1="151.5" y1="369.0" x2="151.5" y2="374.7" stroke="#f5949d" stroke-width="1.5" opacity="0.62"/><line x1="151.5" y1="367.1" x2="151.5" y2="376.6" stroke="#e04857" stroke-width="0.75" opacity="0.85"/><line x1="152.5" y1="373.2" x2="152.5" y2="379.8" stroke="#f5949d" stroke-width="1.5" opacity="0.62"/><line x1="152.5" y1="371.0" x2="152.5" y2="382.0" stroke="#e04857" stroke-width="0.75" opacity="0.85"/><line x1="153.5" y1="378.3" x2="153.5" y2="384.3" stroke="#f5949d" stroke-width="1.5" opacity="0.62"/><line x1="153.5" y1="376.2" x2="153.5" y2="386.3" stroke="#e04857" stroke-width="0.75" opacity="0.85"/><line x1="154.5" y1="381.4" x2="154.5" y2="391.6" stroke="#b8a9aa" stroke-width="1.5" opacity="0.62"/><line x1="154.5" y1="378.0" x2="154.5" y2="395.0" stroke="#5e5a5b" stroke-width="0.75" opacity="0.85"/><line x1="156.0" y1="384.8" x2="156.0" y2="402.2" stroke="#f5949d" stroke-width="1.5" opacity="0.62"/><line x1="156.0" y1="379.0" x2="156.0" y2="408.0" stroke="#e04857" stroke-width="0.75" opacity="0.85"/><line x1="157.5" y1="412.6" x2="157.5" y2="426.4" stroke="#f5949d" stroke-width="1.5" opacity="0.62"/><line x1="157.5" y1="408.0" x2="157.5" y2="431.0" stroke="#e04857" stroke-width="0.75" opacity="0.85"/><line x1="159.0" y1="411.8" x2="159.0" y2="417.2" stroke="#b8a9aa" stroke-width="1.5" opacity="0.62"/><line x1="159.0" y1="410.0" x2="159.0" y2="419.0" stroke="#5e5a5b" stroke-width="0.75" opacity="0.85"/><line x1="160.5" y1="400.8" x2="160.5" y2="409.2" stroke="#7ccbbd" stroke-width="1.5" opacity="0.62"/><line x1="160.5" y1="398.0" x2="160.5" y2="412.0" stroke="#27907c" stroke-width="0.75" opacity="0.85"/><line x1="162.0" y1="389.6" x2="162.0" y2="397.4" stroke="#7ccbbd" stroke-width="1.5" opacity="0.62"/><line x1="162.0" y1="387.0" x2="162.0" y2="400.0" stroke="#27907c" stroke-width="0.75" opacity="0.85"/><line x1="163.5" y1="379.2" x2="163.5" y2="385.8" stroke="#b8a9aa" stroke-width="1.5" opacity="0.62"/><line x1="163.5" y1="377.0" x2="163.5" y2="388.0" stroke="#5e5a5b" stroke-width="0.75" opacity="0.85"/><line x1="165.0" y1="378.6" x2="165.0" y2="383.4" stroke="#b8a9aa" stroke-width="1.5" opacity="0.62"/><line x1="165.0" y1="377.0" x2="165.0" y2="385.0" stroke="#5e5a5b" stroke-width="0.75" opacity="0.85"/><line x1="166.5" y1="369.4" x2="166.5" y2="382.6" stroke="#7ccbbd" stroke-width="1.5" opacity="0.62"/><line x1="166.5" y1="365.0" x2="166.5" y2="387.0" stroke="#27907c" stroke-width="0.75" opacity="0.85"/><line x1="167.5" y1="351.8" x2="167.5" y2="363.2" stroke="#7ccbbd" stroke-width="1.5" opacity="0.62"/><line x1="167.5" y1="348.0" x2="167.5" y2="367.0" stroke="#27907c" stroke-width="0.75" opacity="0.85"/><line x1="169.0" y1="334.2" x2="169.0" y2="343.8" stroke="#7ccbbd" stroke-width="1.5" opacity="0.62"/><line x1="169.0" y1="331.0" x2="169.0" y2="347.0" stroke="#27907c" stroke-width="0.75" opacity="0.85"/><line x1="170.0" y1="342.1" x2="170.0" y2="347.3" stroke="#f5949d" stroke-width="1.5" opacity="0.62"/><line x1="170.0" y1="340.4" x2="170.0" y2="349.0" stroke="#e04857" stroke-width="0.75" opacity="0.85"/><line x1="171.0" y1="344.2" x2="171.0" y2="356.8" stroke="#b8a9aa" stroke-width="1.5" opacity="0.62"/><line x1="171.0" y1="340.0" x2="171.0" y2="361.0" stroke="#5e5a5b" stroke-width="0.75" opacity="0.85"/><line x1="173.0" y1="303.4" x2="173.0" y2="328.6" stroke="#7ccbbd" stroke-width="1.5" opacity="0.62"/><line x1="173.0" y1="295.0" x2="173.0" y2="337.0" stroke="#27907c" stroke-width="0.75" opacity="0.85"/><line x1="174.0" y1="291.6" x2="174.0" y2="305.4" stroke="#7ccbbd" stroke-width="1.5" opacity="0.62"/><line x1="174.0" y1="287.0" x2="174.0" y2="310.0" stroke="#27907c" stroke-width="0.75" opacity="0.85"/><line x1="175.5" y1="282.0" x2="175.5" y2="297.0" stroke="#f5949d" stroke-width="1.5" opacity="0.62"/><line x1="175.5" y1="277.0" x2="175.5" y2="302.0" stroke="#e04857" stroke-width="0.75" opacity="0.85"/><line x1="177.0" y1="272.6" x2="177.0" y2="280.4" stroke="#f5949d" stroke-width="1.5" opacity="0.62"/><line x1="177.0" y1="270.0" x2="177.0" y2="283.0" stroke="#e04857" stroke-width="0.75" opacity="0.85"/><line x1="178.5" y1="262.0" x2="178.5" y2="274.0" stroke="#7ccbbd" stroke-width="1.5" opacity="0.62"/><line x1="178.5" y1="258.0" x2="178.5" y2="278.0" stroke="#27907c" stroke-width="0.75" opacity="0.85"/><line x1="179.5" y1="257.8" x2="179.5" y2="263.3" stroke="#7ccbbd" stroke-width="1.5" opacity="0.62"/><line x1="179.5" y1="255.9" x2="179.5" y2="265.1" stroke="#27907c" stroke-width="0.75" opacity="0.85"/><line x1="180.5" y1="250.4" x2="180.5" y2="257.6" stroke="#7ccbbd" stroke-width="1.5" opacity="0.62"/><line x1="180.5" y1="248.0" x2="180.5" y2="260.0" stroke="#27907c" stroke-width="0.75" opacity="0.85"/><line x1="181.5" y1="258.4" x2="181.5" y2="262.4" stroke="#7ccbbd" stroke-width="1.5" opacity="0.62"/><line x1="181.5" y1="257.1" x2="181.5" y2="263.7" stroke="#27907c" stroke-width="0.75" opacity="0.85"/><line x1="182.5" y1="260.2" x2="182.5" y2="269.8" stroke="#f5949d" stroke-width="1.5" opacity="0.62"/><line x1="182.5" y1="257.0" x2="182.5" y2="273.0" stroke="#e04857" stroke-width="0.75" opacity="0.85"/><line x1="183.5" y1="268.5" x2="183.5" y2="275.1" stroke="#f5949d" stroke-width="1.5" opacity="0.62"/><line x1="183.5" y1="266.3" x2="183.5" y2="277.4" stroke="#e04857" stroke-width="0.75" opacity="0.85"/><line x1="184.5" y1="275.2" x2="184.5" y2="284.8" stroke="#f5949d" stroke-width="1.5" opacity="0.62"/><line x1="184.5" y1="272.0" x2="184.5" y2="288.0" stroke="#e04857" stroke-width="0.75" opacity="0.85"/><line x1="185.3" y1="293.6" x2="185.3" y2="298.4" stroke="#7ccbbd" stroke-width="1.5" opacity="0.62"/><line x1="185.3" y1="292.0" x2="185.3" y2="300.0" stroke="#27907c" stroke-width="0.75" opacity="0.85"/><line x1="187.0" y1="287.8" x2="187.0" y2="296.2" stroke="#7ccbbd" stroke-width="1.5" opacity="0.62"/><line x1="187.0" y1="285.0" x2="187.0" y2="299.0" stroke="#27907c" stroke-width="0.75" opacity="0.85"/><line x1="188.5" y1="274.8" x2="188.5" y2="286.2" stroke="#b8a9aa" stroke-width="1.5" opacity="0.62"/><line x1="188.5" y1="271.0" x2="188.5" y2="290.0" stroke="#5e5a5b" stroke-width="0.75" opacity="0.85"/><line x1="190.0" y1="289.6" x2="190.0" y2="297.4" stroke="#b8a9aa" stroke-width="1.5" opacity="0.62"/><line x1="190.0" y1="287.0" x2="190.0" y2="300.0" stroke="#5e5a5b" stroke-width="0.75" opacity="0.85"/><line x1="191.5" y1="300.8" x2="191.5" y2="309.2" stroke="#f5949d" stroke-width="1.5" opacity="0.62"/><line x1="191.5" y1="298.0" x2="191.5" y2="312.0" stroke="#e04857" stroke-width="0.75" opacity="0.85"/><line x1="193.0" y1="309.4" x2="193.0" y2="319.6" stroke="#f5949d" stroke-width="1.5" opacity="0.62"/><line x1="193.0" y1="306.0" x2="193.0" y2="323.0" stroke="#e04857" stroke-width="0.75" opacity="0.85"/><line x1="194.5" y1="323.0" x2="194.5" y2="338.0" stroke="#f5949d" stroke-width="1.5" opacity="0.62"/><line x1="194.5" y1="318.0" x2="194.5" y2="343.0" stroke="#e04857" stroke-width="0.75" opacity="0.85"/><line x1="195.5" y1="335.8" x2="195.5" y2="344.2" stroke="#f5949d" stroke-width="1.5" opacity="0.62"/><line x1="195.5" y1="333.0" x2="195.5" y2="347.0" stroke="#e04857" stroke-width="0.75" opacity="0.85"/><line x1="197.0" y1="322.2" x2="197.0" y2="337.8" stroke="#7ccbbd" stroke-width="1.5" opacity="0.62"/><line x1="197.0" y1="317.0" x2="197.0" y2="343.0" stroke="#27907c" stroke-width="0.75" opacity="0.85"/><line x1="198.5" y1="308.2" x2="198.5" y2="314.8" stroke="#7ccbbd" stroke-width="1.5" opacity="0.62"/><line x1="198.5" y1="306.0" x2="198.5" y2="317.0" stroke="#27907c" stroke-width="0.75" opacity="0.85"/><line x1="199.5" y1="289.2" x2="199.5" y2="304.8" stroke="#7ccbbd" stroke-width="1.5" opacity="0.62"/><line x1="199.5" y1="284.0" x2="199.5" y2="310.0" stroke="#27907c" stroke-width="0.75" opacity="0.85"/><line x1="200.5" y1="300.0" x2="200.5" y2="309.0" stroke="#f5949d" stroke-width="1.5" opacity="0.62"/><line x1="200.5" y1="297.0" x2="200.5" y2="312.0" stroke="#e04857" stroke-width="0.75" opacity="0.85"/><line x1="202.0" y1="314.4" x2="202.0" y2="327.6" stroke="#f5949d" stroke-width="1.5" opacity="0.62"/><line x1="202.0" y1="310.0" x2="202.0" y2="332.0" stroke="#e04857" stroke-width="0.75" opacity="0.85"/><line x1="203.5" y1="339.2" x2="203.5" y2="345.8" stroke="#b8a9aa" stroke-width="1.5" opacity="0.62"/><line x1="203.5" y1="337.0" x2="203.5" y2="348.0" stroke="#5e5a5b" stroke-width="0.75" opacity="0.85"/><line x1="204.5" y1="336.0" x2="204.5" y2="348.0" stroke="#f5949d" stroke-width="1.5" opacity="0.62"/><line x1="204.5" y1="332.0" x2="204.5" y2="352.0" stroke="#e04857" stroke-width="0.75" opacity="0.85"/><line x1="206.0" y1="345.6" x2="206.0" y2="356.4" stroke="#f5949d" stroke-width="1.5" opacity="0.62"/><line x1="206.0" y1="342.0" x2="206.0" y2="360.0" stroke="#e04857" stroke-width="0.75" opacity="0.85"/><line x1="207.0" y1="343.0" x2="207.0" y2="361.0" stroke="#f5949d" stroke-width="1.5" opacity="0.62"/><line x1="207.0" y1="337.0" x2="207.0" y2="367.0" stroke="#e04857" stroke-width="0.75" opacity="0.85"/><line x1="208.5" y1="375.2" x2="208.5" y2="384.8" stroke="#b8a9aa" stroke-width="1.5" opacity="0.62"/><line x1="208.5" y1="372.0" x2="208.5" y2="388.0" stroke="#5e5a5b" stroke-width="0.75" opacity="0.85"/><line x1="210.0" y1="380.2" x2="210.0" y2="395.8" stroke="#f5949d" stroke-width="1.5" opacity="0.62"/><line x1="210.0" y1="375.0" x2="210.0" y2="401.0" stroke="#e04857" stroke-width="0.75" opacity="0.85"/><line x1="211.5" y1="378.6" x2="211.5" y2="389.4" stroke="#b8a9aa" stroke-width="1.5" opacity="0.62"/><line x1="211.5" y1="375.0" x2="211.5" y2="393.0" stroke="#5e5a5b" stroke-width="0.75" opacity="0.85"/><line x1="212.5" y1="383.6" x2="212.5" y2="394.4" stroke="#f5949d" stroke-width="1.5" opacity="0.62"/><line x1="212.5" y1="380.0" x2="212.5" y2="398.0" stroke="#e04857" stroke-width="0.75" opacity="0.85"/><line x1="214.0" y1="373.0" x2="214.0" y2="382.0" stroke="#7ccbbd" stroke-width="1.5" opacity="0.62"/><line x1="214.0" y1="370.0" x2="214.0" y2="385.0" stroke="#27907c" stroke-width="0.75" opacity="0.85"/><line x1="215.0" y1="336.8" x2="215.0" y2="363.2" stroke="#7ccbbd" stroke-width="1.5" opacity="0.62"/><line x1="215.0" y1="328.0" x2="215.0" y2="372.0" stroke="#27907c" stroke-width="0.75" opacity="0.85"/><line x1="216.0" y1="344.5" x2="216.0" y2="356.4" stroke="#f5949d" stroke-width="1.5" opacity="0.62"/><line x1="216.0" y1="340.5" x2="216.0" y2="360.4" stroke="#e04857" stroke-width="0.75" opacity="0.85"/><line x1="217.0" y1="341.4" x2="217.0" y2="357.6" stroke="#f5949d" stroke-width="1.5" opacity="0.62"/><line x1="217.0" y1="336.0" x2="217.0" y2="363.0" stroke="#e04857" stroke-width="0.75" opacity="0.85"/><line x1="218.5" y1="371.6" x2="218.5" y2="385.4" stroke="#f5949d" stroke-width="1.5" opacity="0.62"/><line x1="218.5" y1="367.0" x2="218.5" y2="390.0" stroke="#e04857" stroke-width="0.75" opacity="0.85"/><line x1="219.5" y1="377.7" x2="219.5" y2="384.8" stroke="#f5949d" stroke-width="1.5" opacity="0.62"/><line x1="219.5" y1="375.4" x2="219.5" y2="387.2" stroke="#e04857" stroke-width="0.75" opacity="0.85"/><line x1="220.5" y1="378.2" x2="220.5" y2="387.8" stroke="#f5949d" stroke-width="1.5" opacity="0.62"/><line x1="220.5" y1="375.0" x2="220.5" y2="391.0" stroke="#e04857" stroke-width="0.75" opacity="0.85"/><line x1="221.5" y1="382.4" x2="221.5" y2="389.6" stroke="#f5949d" stroke-width="1.5" opacity="0.62"/><line x1="221.5" y1="380.0" x2="221.5" y2="392.0" stroke="#e04857" stroke-width="0.75" opacity="0.85"/><line x1="222.5" y1="371.0" x2="222.5" y2="398.0" stroke="#7ccbbd" stroke-width="1.5" opacity="0.62"/><line x1="222.5" y1="362.0" x2="222.5" y2="407.0" stroke="#27907c" stroke-width="0.75" opacity="0.85"/><line x1="224.0" y1="362.8" x2="224.0" y2="377.2" stroke="#b8a9aa" stroke-width="1.5" opacity="0.62"/><line x1="224.0" y1="358.0" x2="224.0" y2="382.0" stroke="#5e5a5b" stroke-width="0.75" opacity="0.85"/><line x1="225.0" y1="357.1" x2="225.0" y2="364.3" stroke="#f5949d" stroke-width="1.5" opacity="0.62"/><line x1="225.0" y1="354.7" x2="225.0" y2="366.7" stroke="#e04857" stroke-width="0.75" opacity="0.85"/><line x1="226.0" y1="343.6" x2="226.0" y2="354.4" stroke="#f5949d" stroke-width="1.5" opacity="0.62"/><line x1="226.0" y1="340.0" x2="226.0" y2="358.0" stroke="#e04857" stroke-width="0.75" opacity="0.85"/><line x1="227.5" y1="348.0" x2="227.5" y2="357.0" stroke="#f5949d" stroke-width="1.5" opacity="0.62"/><line x1="227.5" y1="345.0" x2="227.5" y2="360.0" stroke="#e04857" stroke-width="0.75" opacity="0.85"/><line x1="228.5" y1="356.0" x2="228.5" y2="368.0" stroke="#7ccbbd" stroke-width="1.5" opacity="0.62"/><line x1="228.5" y1="352.0" x2="228.5" y2="372.0" stroke="#27907c" stroke-width="0.75" opacity="0.85"/><line x1="229.3" y1="340.0" x2="229.3" y2="349.0" stroke="#7ccbbd" stroke-width="1.5" opacity="0.62"/><line x1="229.3" y1="337.0" x2="229.3" y2="352.0" stroke="#27907c" stroke-width="0.75" opacity="0.85"/><line x1="230.5" y1="323.8" x2="230.5" y2="341.2" stroke="#7ccbbd" stroke-width="1.5" opacity="0.62"/><line x1="230.5" y1="318.0" x2="230.5" y2="347.0" stroke="#27907c" stroke-width="0.75" opacity="0.85"/><line x1="232.0" y1="310.4" x2="232.0" y2="317.6" stroke="#f5949d" stroke-width="1.5" opacity="0.62"/><line x1="232.0" y1="308.0" x2="232.0" y2="320.0" stroke="#e04857" stroke-width="0.75" opacity="0.85"/><line x1="233.5" y1="310.8" x2="233.5" y2="325.2" stroke="#b8a9aa" stroke-width="1.5" opacity="0.62"/><line x1="233.5" y1="306.0" x2="233.5" y2="330.0" stroke="#5e5a5b" stroke-width="0.75" opacity="0.85"/><line x1="235.0" y1="313.4" x2="235.0" y2="323.6" stroke="#f5949d" stroke-width="1.5" opacity="0.62"/><line x1="235.0" y1="310.0" x2="235.0" y2="327.0" stroke="#e04857" stroke-width="0.75" opacity="0.85"/><line x1="236.5" y1="314.8" x2="236.5" y2="335.2" stroke="#f5949d" stroke-width="1.5" opacity="0.62"/><line x1="236.5" y1="308.0" x2="236.5" y2="342.0" stroke="#e04857" stroke-width="0.75" opacity="0.85"/><line x1="238.0" y1="280.8" x2="238.0" y2="310.2" stroke="#7ccbbd" stroke-width="1.5" opacity="0.62"/><line x1="238.0" y1="271.0" x2="238.0" y2="320.0" stroke="#27907c" stroke-width="0.75" opacity="0.85"/><line x1="239.5" y1="241.6" x2="239.5" y2="261.4" stroke="#7ccbbd" stroke-width="1.5" opacity="0.62"/><line x1="239.5" y1="235.0" x2="239.5" y2="268.0" stroke="#27907c" stroke-width="0.75" opacity="0.85"/><line x1="240.5" y1="227.4" x2="240.5" y2="234.6" stroke="#f5949d" stroke-width="1.5" opacity="0.62"/><line x1="240.5" y1="225.0" x2="240.5" y2="237.0" stroke="#e04857" stroke-width="0.75" opacity="0.85"/><line x1="241.5" y1="210.6" x2="241.5" y2="221.4" stroke="#b8a9aa" stroke-width="1.5" opacity="0.62"/><line x1="241.5" y1="207.0" x2="241.5" y2="225.0" stroke="#5e5a5b" stroke-width="0.75" opacity="0.85"/><line x1="243.0" y1="195.0" x2="243.0" y2="204.0" stroke="#f5949d" stroke-width="1.5" opacity="0.62"/><line x1="243.0" y1="192.0" x2="243.0" y2="207.0" stroke="#e04857" stroke-width="0.75" opacity="0.85"/><line x1="244.0" y1="184.8" x2="244.0" y2="190.2" stroke="#f5949d" stroke-width="1.5" opacity="0.62"/><line x1="244.0" y1="183.0" x2="244.0" y2="192.0" stroke="#e04857" stroke-width="0.75" opacity="0.85"/><line x1="245.5" y1="171.6" x2="245.5" y2="185.4" stroke="#7ccbbd" stroke-width="1.5" opacity="0.62"/><line x1="245.5" y1="167.0" x2="245.5" y2="190.0" stroke="#27907c" stroke-width="0.75" opacity="0.85"/><line x1="246.5" y1="170.0" x2="246.5" y2="179.0" stroke="#b8a9aa" stroke-width="1.5" opacity="0.62"/><line x1="246.5" y1="167.0" x2="246.5" y2="182.0" stroke="#5e5a5b" stroke-width="0.75" opacity="0.85"/><line x1="248.0" y1="173.6" x2="248.0" y2="184.4" stroke="#7ccbbd" stroke-width="1.5" opacity="0.62"/><line x1="248.0" y1="170.0" x2="248.0" y2="188.0" stroke="#27907c" stroke-width="0.75" opacity="0.85"/><line x1="249.5" y1="169.2" x2="249.5" y2="175.8" stroke="#7ccbbd" stroke-width="1.5" opacity="0.62"/><line x1="249.5" y1="167.0" x2="249.5" y2="178.0" stroke="#27907c" stroke-width="0.75" opacity="0.85"/><line x1="251.0" y1="135.8" x2="251.0" y2="159.2" stroke="#7ccbbd" stroke-width="1.5" opacity="0.62"/><line x1="251.0" y1="128.0" x2="251.0" y2="167.0" stroke="#27907c" stroke-width="0.75" opacity="0.85"/><line x1="252.5" y1="125.2" x2="252.5" y2="134.8" stroke="#b8a9aa" stroke-width="1.5" opacity="0.62"/><line x1="252.5" y1="122.0" x2="252.5" y2="138.0" stroke="#5e5a5b" stroke-width="0.75" opacity="0.85"/><line x1="254.0" y1="132.0" x2="254.0" y2="144.0" stroke="#f5949d" stroke-width="1.5" opacity="0.62"/><line x1="254.0" y1="128.0" x2="254.0" y2="148.0" stroke="#e04857" stroke-width="0.75" opacity="0.85"/><line x1="255.5" y1="141.4" x2="255.5" y2="151.6" stroke="#f5949d" stroke-width="1.5" opacity="0.62"/><line x1="255.5" y1="138.0" x2="255.5" y2="155.0" stroke="#e04857" stroke-width="0.75" opacity="0.85"/><line x1="256.5" y1="132.4" x2="256.5" y2="154.6" stroke="#7ccbbd" stroke-width="1.5" opacity="0.62"/><line x1="256.5" y1="125.0" x2="256.5" y2="162.0" stroke="#27907c" stroke-width="0.75" opacity="0.85"/><line x1="257.5" y1="119.0" x2="257.5" y2="125.0" stroke="#7ccbbd" stroke-width="1.5" opacity="0.62"/><line x1="257.5" y1="117.0" x2="257.5" y2="127.0" stroke="#27907c" stroke-width="0.75" opacity="0.85"/><line x1="258.5" y1="94.6" x2="258.5" y2="102.4" stroke="#7ccbbd" stroke-width="1.5" opacity="0.62"/><line x1="258.5" y1="92.0" x2="258.5" y2="105.0" stroke="#27907c" stroke-width="0.75" opacity="0.85"/><line x1="259.5" y1="104.0" x2="259.5" y2="116.0" stroke="#b8a9aa" stroke-width="1.5" opacity="0.62"/><line x1="259.5" y1="100.0" x2="259.5" y2="120.0" stroke="#5e5a5b" stroke-width="0.75" opacity="0.85"/><line x1="261.0" y1="110.6" x2="261.0" y2="121.4" stroke="#f5949d" stroke-width="1.5" opacity="0.62"/><line x1="261.0" y1="107.0" x2="261.0" y2="125.0" stroke="#e04857" stroke-width="0.75" opacity="0.85"/><line x1="262.5" y1="95.6" x2="262.5" y2="112.4" stroke="#b8a9aa" stroke-width="1.5" opacity="0.62"/><line x1="262.5" y1="90.0" x2="262.5" y2="118.0" stroke="#5e5a5b" stroke-width="0.75" opacity="0.85"/><line x1="264.0" y1="96.6" x2="264.0" y2="110.4" stroke="#7ccbbd" stroke-width="1.5" opacity="0.62"/><line x1="264.0" y1="92.0" x2="264.0" y2="115.0" stroke="#27907c" stroke-width="0.75" opacity="0.85"/><line x1="265.5" y1="69.4" x2="265.5" y2="82.6" stroke="#f5949d" stroke-width="1.5" opacity="0.62"/><line x1="265.5" y1="65.0" x2="265.5" y2="87.0" stroke="#e04857" stroke-width="0.75" opacity="0.85"/><line x1="266.2" y1="70.4" x2="266.2" y2="83.6" stroke="#b8a9aa" stroke-width="1.5" opacity="0.62"/><line x1="266.2" y1="66.0" x2="266.2" y2="88.0" stroke="#5e5a5b" stroke-width="0.75" opacity="0.85"/><line x1="267.5" y1="96.0" x2="267.5" y2="108.0" stroke="#f5949d" stroke-width="1.5" opacity="0.62"/><line x1="267.5" y1="92.0" x2="267.5" y2="112.0" stroke="#e04857" stroke-width="0.75" opacity="0.85"/><line x1="269.0" y1="105.6" x2="269.0" y2="116.4" stroke="#b8a9aa" stroke-width="1.5" opacity="0.62"/><line x1="269.0" y1="102.0" x2="269.0" y2="120.0" stroke="#5e5a5b" stroke-width="0.75" opacity="0.85"/><line x1="270.0" y1="108.4" x2="270.0" y2="118.6" stroke="#b8a9aa" stroke-width="1.5" opacity="0.62"/><line x1="270.0" y1="105.0" x2="270.0" y2="122.0" stroke="#5e5a5b" stroke-width="0.75" opacity="0.85"/><line x1="271.5" y1="105.0" x2="271.5" y2="114.0" stroke="#7ccbbd" stroke-width="1.5" opacity="0.62"/><line x1="271.5" y1="102.0" x2="271.5" y2="117.0" stroke="#27907c" stroke-width="0.75" opacity="0.85"/><line x1="273.0" y1="120.0" x2="273.0" y2="129.0" stroke="#7ccbbd" stroke-width="1.5" opacity="0.62"/><line x1="273.0" y1="117.0" x2="273.0" y2="132.0" stroke="#27907c" stroke-width="0.75" opacity="0.85"/><line x1="274.0" y1="118.6" x2="274.0" y2="124.6" stroke="#7ccbbd" stroke-width="1.5" opacity="0.62"/><line x1="274.0" y1="116.6" x2="274.0" y2="126.5" stroke="#27907c" stroke-width="0.75" opacity="0.85"/><line x1="275.0" y1="115.0" x2="275.0" y2="124.0" stroke="#f5949d" stroke-width="1.5" opacity="0.62"/><line x1="275.0" y1="112.0" x2="275.0" y2="127.0" stroke="#e04857" stroke-width="0.75" opacity="0.85"/><line x1="276.5" y1="119.2" x2="276.5" y2="125.8" stroke="#b8a9aa" stroke-width="1.5" opacity="0.62"/><line x1="276.5" y1="117.0" x2="276.5" y2="128.0" stroke="#5e5a5b" stroke-width="0.75" opacity="0.85"/><line x1="278.0" y1="120.0" x2="278.0" y2="135.0" stroke="#f5949d" stroke-width="1.5" opacity="0.62"/><line x1="278.0" y1="115.0" x2="278.0" y2="140.0" stroke="#e04857" stroke-width="0.75" opacity="0.85"/><line x1="279.5" y1="126.0" x2="279.5" y2="138.0" stroke="#b8a9aa" stroke-width="1.5" opacity="0.62"/><line x1="279.5" y1="122.0" x2="279.5" y2="142.0" stroke="#5e5a5b" stroke-width="0.75" opacity="0.85"/><line x1="281.0" y1="140.8" x2="281.0" y2="149.2" stroke="#f5949d" stroke-width="1.5" opacity="0.62"/><line x1="281.0" y1="138.0" x2="281.0" y2="152.0" stroke="#e04857" stroke-width="0.75" opacity="0.85"/><line x1="282.0" y1="119.4" x2="282.0" y2="132.6" stroke="#7ccbbd" stroke-width="1.5" opacity="0.62"/><line x1="282.0" y1="115.0" x2="282.0" y2="137.0" stroke="#27907c" stroke-width="0.75" opacity="0.85"/><line x1="283.0" y1="108.8" x2="283.0" y2="117.2" stroke="#7ccbbd" stroke-width="1.5" opacity="0.62"/><line x1="283.0" y1="106.0" x2="283.0" y2="120.0" stroke="#27907c" stroke-width="0.75" opacity="0.85"/><line x1="284.5" y1="101.8" x2="284.5" y2="110.2" stroke="#f5949d" stroke-width="1.5" opacity="0.62"/><line x1="284.5" y1="99.0" x2="284.5" y2="113.0" stroke="#e04857" stroke-width="0.75" opacity="0.85"/><line x1="286.0" y1="111.4" x2="286.0" y2="121.6" stroke="#f5949d" stroke-width="1.5" opacity="0.62"/><line x1="286.0" y1="108.0" x2="286.0" y2="125.0" stroke="#e04857" stroke-width="0.75" opacity="0.85"/><line x1="287.5" y1="117.2" x2="287.5" y2="126.8" stroke="#b8a9aa" stroke-width="1.5" opacity="0.62"/><line x1="287.5" y1="114.0" x2="287.5" y2="130.0" stroke="#5e5a5b" stroke-width="0.75" opacity="0.85"/><line x1="289.0" y1="129.0" x2="289.0" y2="141.0" stroke="#f5949d" stroke-width="1.5" opacity="0.62"/><line x1="289.0" y1="125.0" x2="289.0" y2="145.0" stroke="#e04857" stroke-width="0.75" opacity="0.85"/><line x1="290.5" y1="143.8" x2="290.5" y2="155.2" stroke="#f5949d" stroke-width="1.5" opacity="0.62"/><line x1="290.5" y1="140.0" x2="290.5" y2="159.0" stroke="#e04857" stroke-width="0.75" opacity="0.85"/><line x1="292.0" y1="126.4" x2="292.0" y2="139.6" stroke="#7ccbbd" stroke-width="1.5" opacity="0.62"/><line x1="292.0" y1="122.0" x2="292.0" y2="144.0" stroke="#27907c" stroke-width="0.75" opacity="0.85"/><line x1="293.0" y1="111.4" x2="293.0" y2="121.6" stroke="#7ccbbd" stroke-width="1.5" opacity="0.62"/><line x1="293.0" y1="108.0" x2="293.0" y2="125.0" stroke="#27907c" stroke-width="0.75" opacity="0.85"/><line x1="294.5" y1="101.4" x2="294.5" y2="111.6" stroke="#7ccbbd" stroke-width="1.5" opacity="0.62"/><line x1="294.5" y1="98.0" x2="294.5" y2="115.0" stroke="#27907c" stroke-width="0.75" opacity="0.85"/><line x1="296.3" y1="96.8" x2="296.3" y2="105.2" stroke="#7ccbbd" stroke-width="1.5" opacity="0.62"/><line x1="296.3" y1="94.0" x2="296.3" y2="108.0" stroke="#27907c" stroke-width="0.75" opacity="0.85"/><line x1="298.0" y1="87.0" x2="298.0" y2="93.0" stroke="#b8a9aa" stroke-width="1.5" opacity="0.62"/><line x1="298.0" y1="85.0" x2="298.0" y2="95.0" stroke="#5e5a5b" stroke-width="0.75" opacity="0.85"/><line x1="299.0" y1="90.0" x2="299.0" y2="102.0" stroke="#f5949d" stroke-width="1.5" opacity="0.62"/><line x1="299.0" y1="86.0" x2="299.0" y2="106.0" stroke="#e04857" stroke-width="0.75" opacity="0.85"/><line x1="300.0" y1="163.2" x2="300.0" y2="184.8" stroke="#7ccbbd" stroke-width="1.5" opacity="0.62"/><line x1="300.0" y1="156.0" x2="300.0" y2="192.0" stroke="#27907c" stroke-width="0.75" opacity="0.85"/><line x1="301.5" y1="182.0" x2="301.5" y2="203.0" stroke="#f5949d" stroke-width="1.5" opacity="0.62"/><line x1="301.5" y1="175.0" x2="301.5" y2="210.0" stroke="#e04857" stroke-width="0.75" opacity="0.85"/><line x1="302.5" y1="202.0" x2="302.5" y2="214.0" stroke="#b8a9aa" stroke-width="1.5" opacity="0.62"/><line x1="302.5" y1="198.0" x2="302.5" y2="218.0" stroke="#5e5a5b" stroke-width="0.75" opacity="0.85"/><line x1="304.0" y1="188.6" x2="304.0" y2="202.4" stroke="#b8a9aa" stroke-width="1.5" opacity="0.62"/><line x1="304.0" y1="184.0" x2="304.0" y2="207.0" stroke="#5e5a5b" stroke-width="0.75" opacity="0.85"/><line x1="305.5" y1="190.0" x2="305.5" y2="199.0" stroke="#f5949d" stroke-width="1.5" opacity="0.62"/><line x1="305.5" y1="187.0" x2="305.5" y2="202.0" stroke="#e04857" stroke-width="0.75" opacity="0.85"/><line x1="307.0" y1="192.6" x2="307.0" y2="203.4" stroke="#b8a9aa" stroke-width="1.5" opacity="0.62"/><line x1="307.0" y1="189.0" x2="307.0" y2="207.0" stroke="#5e5a5b" stroke-width="0.75" opacity="0.85"/><line x1="308.5" y1="206.2" x2="308.5" y2="218.8" stroke="#7ccbbd" stroke-width="1.5" opacity="0.62"/><line x1="308.5" y1="202.0" x2="308.5" y2="223.0" stroke="#27907c" stroke-width="0.75" opacity="0.85"/><line x1="310.0" y1="207.6" x2="310.0" y2="221.4" stroke="#7ccbbd" stroke-width="1.5" opacity="0.62"/><line x1="310.0" y1="203.0" x2="310.0" y2="226.0" stroke="#27907c" stroke-width="0.75" opacity="0.85"/><line x1="311.5" y1="219.0" x2="311.5" y2="225.0" stroke="#f5949d" stroke-width="1.5" opacity="0.62"/><line x1="311.5" y1="217.0" x2="311.5" y2="227.0" stroke="#e04857" stroke-width="0.75" opacity="0.85"/><line x1="313.0" y1="224.0" x2="313.0" y2="236.0" stroke="#f5949d" stroke-width="1.5" opacity="0.62"/><line x1="313.0" y1="220.0" x2="313.0" y2="240.0" stroke="#e04857" stroke-width="0.75" opacity="0.85"/><line x1="314.0" y1="223.5" x2="314.0" y2="231.3" stroke="#7ccbbd" stroke-width="1.5" opacity="0.62"/><line x1="314.0" y1="220.9" x2="314.0" y2="233.9" stroke="#27907c" stroke-width="0.75" opacity="0.85"/><line x1="315.0" y1="218.4" x2="315.0" y2="234.6" stroke="#7ccbbd" stroke-width="1.5" opacity="0.62"/><line x1="315.0" y1="213.0" x2="315.0" y2="240.0" stroke="#27907c" stroke-width="0.75" opacity="0.85"/><line x1="316.5" y1="198.6" x2="316.5" y2="209.4" stroke="#7ccbbd" stroke-width="1.5" opacity="0.62"/><line x1="316.5" y1="195.0" x2="316.5" y2="213.0" stroke="#27907c" stroke-width="0.75" opacity="0.85"/><line x1="317.5" y1="192.8" x2="317.5" y2="200.6" stroke="#7ccbbd" stroke-width="1.5" opacity="0.62"/><line x1="317.5" y1="190.1" x2="317.5" y2="203.2" stroke="#27907c" stroke-width="0.75" opacity="0.85"/><line x1="318.5" y1="185.2" x2="318.5" y2="194.8" stroke="#7ccbbd" stroke-width="1.5" opacity="0.62"/><line x1="318.5" y1="182.0" x2="318.5" y2="198.0" stroke="#27907c" stroke-width="0.75" opacity="0.85"/><line x1="320.0" y1="174.6" x2="320.0" y2="182.4" stroke="#7ccbbd" stroke-width="1.5" opacity="0.62"/><line x1="320.0" y1="172.0" x2="320.0" y2="185.0" stroke="#27907c" stroke-width="0.75" opacity="0.85"/><line x1="321.0" y1="172.0" x2="321.0" y2="178.0" stroke="#7ccbbd" stroke-width="1.5" opacity="0.62"/><line x1="321.0" y1="170.0" x2="321.0" y2="180.0" stroke="#27907c" stroke-width="0.75" opacity="0.85"/><line x1="322.5" y1="173.6" x2="322.5" y2="187.4" stroke="#f5949d" stroke-width="1.5" opacity="0.62"/><line x1="322.5" y1="169.0" x2="322.5" y2="192.0" stroke="#e04857" stroke-width="0.75" opacity="0.85"/><line x1="324.0" y1="184.4" x2="324.0" y2="194.6" stroke="#f5949d" stroke-width="1.5" opacity="0.62"/><line x1="324.0" y1="181.0" x2="324.0" y2="198.0" stroke="#e04857" stroke-width="0.75" opacity="0.85"/><line x1="325.5" y1="199.6" x2="325.5" y2="213.4" stroke="#f5949d" stroke-width="1.5" opacity="0.62"/><line x1="325.5" y1="195.0" x2="325.5" y2="218.0" stroke="#e04857" stroke-width="0.75" opacity="0.85"/><line x1="327.0" y1="191.0" x2="327.0" y2="203.0" stroke="#b8a9aa" stroke-width="1.5" opacity="0.62"/><line x1="327.0" y1="187.0" x2="327.0" y2="207.0" stroke="#5e5a5b" stroke-width="0.75" opacity="0.85"/><line x1="328.7" y1="219.6" x2="328.7" y2="233.4" stroke="#b8a9aa" stroke-width="1.5" opacity="0.62"/><line x1="328.7" y1="215.0" x2="328.7" y2="238.0" stroke="#5e5a5b" stroke-width="0.75" opacity="0.85"/><line x1="330.5" y1="221.6" x2="330.5" y2="235.4" stroke="#b8a9aa" stroke-width="1.5" opacity="0.62"/><line x1="330.5" y1="217.0" x2="330.5" y2="240.0" stroke="#5e5a5b" stroke-width="0.75" opacity="0.85"/><line x1="331.5" y1="219.9" x2="331.5" y2="228.1" stroke="#7ccbbd" stroke-width="1.5" opacity="0.62"/><line x1="331.5" y1="217.2" x2="331.5" y2="230.8" stroke="#27907c" stroke-width="0.75" opacity="0.85"/><line x1="332.5" y1="214.6" x2="332.5" y2="228.4" stroke="#f5949d" stroke-width="1.5" opacity="0.62"/><line x1="332.5" y1="210.0" x2="332.5" y2="233.0" stroke="#e04857" stroke-width="0.75" opacity="0.85"/><line x1="334.0" y1="221.6" x2="334.0" y2="232.4" stroke="#f5949d" stroke-width="1.5" opacity="0.62"/><line x1="334.0" y1="218.0" x2="334.0" y2="236.0" stroke="#e04857" stroke-width="0.75" opacity="0.85"/><line x1="335.0" y1="243.8" x2="335.0" y2="261.2" stroke="#f5949d" stroke-width="1.5" opacity="0.62"/><line x1="335.0" y1="238.0" x2="335.0" y2="267.0" stroke="#e04857" stroke-width="0.75" opacity="0.85"/><line x1="335.8" y1="258.6" x2="335.8" y2="269.4" stroke="#7ccbbd" stroke-width="1.5" opacity="0.62"/><line x1="335.8" y1="255.0" x2="335.8" y2="273.0" stroke="#27907c" stroke-width="0.75" opacity="0.85"/><line x1="337.0" y1="242.2" x2="337.0" y2="251.8" stroke="#b8a9aa" stroke-width="1.5" opacity="0.62"/><line x1="337.0" y1="239.0" x2="337.0" y2="255.0" stroke="#5e5a5b" stroke-width="0.75" opacity="0.85"/><line x1="338.5" y1="230.4" x2="338.5" y2="237.6" stroke="#7ccbbd" stroke-width="1.5" opacity="0.62"/><line x1="338.5" y1="228.0" x2="338.5" y2="240.0" stroke="#27907c" stroke-width="0.75" opacity="0.85"/><line x1="340.0" y1="220.4" x2="340.0" y2="227.6" stroke="#7ccbbd" stroke-width="1.5" opacity="0.62"/><line x1="340.0" y1="218.0" x2="340.0" y2="230.0" stroke="#27907c" stroke-width="0.75" opacity="0.85"/><line x1="341.5" y1="190.4" x2="341.5" y2="212.6" stroke="#7ccbbd" stroke-width="1.5" opacity="0.62"/><line x1="341.5" y1="183.0" x2="341.5" y2="220.0" stroke="#27907c" stroke-width="0.75" opacity="0.85"/><line x1="343.0" y1="188.0" x2="343.0" y2="197.0" stroke="#b8a9aa" stroke-width="1.5" opacity="0.62"/><line x1="343.0" y1="185.0" x2="343.0" y2="200.0" stroke="#5e5a5b" stroke-width="0.75" opacity="0.85"/><line x1="344.0" y1="203.2" x2="344.0" y2="206.8" stroke="#7ccbbd" stroke-width="1.5" opacity="0.62"/><line x1="344.0" y1="202.0" x2="344.0" y2="208.0" stroke="#27907c" stroke-width="0.75" opacity="0.85"/><line x1="345.5" y1="204.8" x2="345.5" y2="213.2" stroke="#b8a9aa" stroke-width="1.5" opacity="0.62"/><line x1="345.5" y1="202.0" x2="345.5" y2="216.0" stroke="#5e5a5b" stroke-width="0.75" opacity="0.85"/><line x1="347.0" y1="188.6" x2="347.0" y2="199.4" stroke="#7ccbbd" stroke-width="1.5" opacity="0.62"/><line x1="347.0" y1="185.0" x2="347.0" y2="203.0" stroke="#27907c" stroke-width="0.75" opacity="0.85"/><line x1="348.0" y1="188.3" x2="348.0" y2="195.6" stroke="#7ccbbd" stroke-width="1.5" opacity="0.62"/><line x1="348.0" y1="185.9" x2="348.0" y2="198.0" stroke="#27907c" stroke-width="0.75" opacity="0.85"/><line x1="349.0" y1="183.8" x2="349.0" y2="192.2" stroke="#b8a9aa" stroke-width="1.5" opacity="0.62"/><line x1="349.0" y1="181.0" x2="349.0" y2="195.0" stroke="#5e5a5b" stroke-width="0.75" opacity="0.85"/><line x1="350.5" y1="189.8" x2="350.5" y2="198.2" stroke="#f5949d" stroke-width="1.5" opacity="0.62"/><line x1="350.5" y1="187.0" x2="350.5" y2="201.0" stroke="#e04857" stroke-width="0.75" opacity="0.85"/><line x1="352.0" y1="189.0" x2="352.0" y2="192.0" stroke="#b8a9aa" stroke-width="1.5" opacity="0.62"/><line x1="352.0" y1="188.0" x2="352.0" y2="193.0" stroke="#5e5a5b" stroke-width="0.75" opacity="0.85"/><line x1="353.0" y1="181.6" x2="353.0" y2="186.4" stroke="#7ccbbd" stroke-width="1.5" opacity="0.62"/><line x1="353.0" y1="180.0" x2="353.0" y2="188.0" stroke="#27907c" stroke-width="0.75" opacity="0.85"/><line x1="354.5" y1="171.8" x2="354.5" y2="180.2" stroke="#b8a9aa" stroke-width="1.5" opacity="0.62"/><line x1="354.5" y1="169.0" x2="354.5" y2="183.0" stroke="#5e5a5b" stroke-width="0.75" opacity="0.85"/><line x1="356.0" y1="172.6" x2="356.0" y2="180.4" stroke="#f5949d" stroke-width="1.5" opacity="0.62"/><line x1="356.0" y1="170.0" x2="356.0" y2="183.0" stroke="#e04857" stroke-width="0.75" opacity="0.85"/><line x1="357.0" y1="181.1" x2="357.0" y2="186.8" stroke="#f5949d" stroke-width="1.5" opacity="0.62"/><line x1="357.0" y1="179.2" x2="357.0" y2="188.7" stroke="#e04857" stroke-width="0.75" opacity="0.85"/><line x1="358.0" y1="186.0" x2="358.0" y2="198.0" stroke="#f5949d" stroke-width="1.5" opacity="0.62"/><line x1="358.0" y1="182.0" x2="358.0" y2="202.0" stroke="#e04857" stroke-width="0.75" opacity="0.85"/><line x1="359.5" y1="174.8" x2="359.5" y2="180.2" stroke="#7ccbbd" stroke-width="1.5" opacity="0.62"/><line x1="359.5" y1="173.0" x2="359.5" y2="182.0" stroke="#27907c" stroke-width="0.75" opacity="0.85"/><line x1="360.5" y1="160.8" x2="360.5" y2="172.2" stroke="#7ccbbd" stroke-width="1.5" opacity="0.62"/><line x1="360.5" y1="157.0" x2="360.5" y2="176.0" stroke="#27907c" stroke-width="0.75" opacity="0.85"/><line x1="361.5" y1="166.1" x2="361.5" y2="173.2" stroke="#7ccbbd" stroke-width="1.5" opacity="0.62"/><line x1="361.5" y1="163.7" x2="361.5" y2="175.5" stroke="#27907c" stroke-width="0.75" opacity="0.85"/><line x1="362.5" y1="161.6" x2="362.5" y2="178.4" stroke="#b8a9aa" stroke-width="1.5" opacity="0.62"/><line x1="362.5" y1="156.0" x2="362.5" y2="184.0" stroke="#5e5a5b" stroke-width="0.75" opacity="0.85"/><line x1="364.0" y1="158.6" x2="364.0" y2="169.4" stroke="#b8a9aa" stroke-width="1.5" opacity="0.62"/><line x1="364.0" y1="155.0" x2="364.0" y2="173.0" stroke="#5e5a5b" stroke-width="0.75" opacity="0.85"/><line x1="365.0" y1="157.0" x2="365.0" y2="163.0" stroke="#7ccbbd" stroke-width="1.5" opacity="0.62"/><line x1="365.0" y1="155.0" x2="365.0" y2="165.0" stroke="#27907c" stroke-width="0.75" opacity="0.85"/><line x1="366.0" y1="150.0" x2="366.0" y2="156.0" stroke="#f5949d" stroke-width="1.5" opacity="0.62"/><line x1="366.0" y1="148.0" x2="366.0" y2="158.0" stroke="#e04857" stroke-width="0.75" opacity="0.85"/><line x1="367.0" y1="164.0" x2="367.0" y2="185.0" stroke="#f5949d" stroke-width="1.5" opacity="0.62"/><line x1="367.0" y1="157.0" x2="367.0" y2="192.0" stroke="#e04857" stroke-width="0.75" opacity="0.85"/><line x1="368.0" y1="199.6" x2="368.0" y2="213.4" stroke="#f5949d" stroke-width="1.5" opacity="0.62"/><line x1="368.0" y1="195.0" x2="368.0" y2="218.0" stroke="#e04857" stroke-width="0.75" opacity="0.85"/><line x1="369.5" y1="221.0" x2="369.5" y2="230.0" stroke="#7ccbbd" stroke-width="1.5" opacity="0.62"/><line x1="369.5" y1="218.0" x2="369.5" y2="233.0" stroke="#27907c" stroke-width="0.75" opacity="0.85"/><line x1="370.5" y1="221.1" x2="370.5" y2="225.8" stroke="#7ccbbd" stroke-width="1.5" opacity="0.62"/><line x1="370.5" y1="219.6" x2="370.5" y2="227.3" stroke="#27907c" stroke-width="0.75" opacity="0.85"/><line x1="371.5" y1="218.8" x2="371.5" y2="227.2" stroke="#b8a9aa" stroke-width="1.5" opacity="0.62"/><line x1="371.5" y1="216.0" x2="371.5" y2="230.0" stroke="#5e5a5b" stroke-width="0.75" opacity="0.85"/><line x1="373.0" y1="220.6" x2="373.0" y2="231.4" stroke="#f5949d" stroke-width="1.5" opacity="0.62"/><line x1="373.0" y1="217.0" x2="373.0" y2="235.0" stroke="#e04857" stroke-width="0.75" opacity="0.85"/><line x1="374.5" y1="231.4" x2="374.5" y2="241.6" stroke="#b8a9aa" stroke-width="1.5" opacity="0.62"/><line x1="374.5" y1="228.0" x2="374.5" y2="245.0" stroke="#5e5a5b" stroke-width="0.75" opacity="0.85"/><line x1="376.0" y1="215.2" x2="376.0" y2="227.8" stroke="#f5949d" stroke-width="1.5" opacity="0.62"/><line x1="376.0" y1="211.0" x2="376.0" y2="232.0" stroke="#e04857" stroke-width="0.75" opacity="0.85"/><line x1="377.5" y1="236.8" x2="377.5" y2="242.2" stroke="#f5949d" stroke-width="1.5" opacity="0.62"/><line x1="377.5" y1="235.0" x2="377.5" y2="244.0" stroke="#e04857" stroke-width="0.75" opacity="0.85"/><line x1="378.5" y1="242.2" x2="378.5" y2="248.8" stroke="#7ccbbd" stroke-width="1.5" opacity="0.62"/><line x1="378.5" y1="240.0" x2="378.5" y2="251.0" stroke="#27907c" stroke-width="0.75" opacity="0.85"/><line x1="380.0" y1="234.0" x2="380.0" y2="240.0" stroke="#f5949d" stroke-width="1.5" opacity="0.62"/><line x1="380.0" y1="232.0" x2="380.0" y2="242.0" stroke="#e04857" stroke-width="0.75" opacity="0.85"/><line x1="381.5" y1="230.2" x2="381.5" y2="239.8" stroke="#b8a9aa" stroke-width="1.5" opacity="0.62"/><line x1="381.5" y1="227.0" x2="381.5" y2="243.0" stroke="#5e5a5b" stroke-width="0.75" opacity="0.85"/><line x1="383.0" y1="237.8" x2="383.0" y2="252.2" stroke="#7ccbbd" stroke-width="1.5" opacity="0.62"/><line x1="383.0" y1="233.0" x2="383.0" y2="257.0" stroke="#27907c" stroke-width="0.75" opacity="0.85"/><line x1="384.5" y1="216.0" x2="384.5" y2="225.0" stroke="#7ccbbd" stroke-width="1.5" opacity="0.62"/><line x1="384.5" y1="213.0" x2="384.5" y2="228.0" stroke="#27907c" stroke-width="0.75" opacity="0.85"/><line x1="385.5" y1="207.0" x2="385.5" y2="219.0" stroke="#b8a9aa" stroke-width="1.5" opacity="0.62"/><line x1="385.5" y1="203.0" x2="385.5" y2="223.0" stroke="#5e5a5b" stroke-width="0.75" opacity="0.85"/><line x1="387.3" y1="212.0" x2="387.3" y2="227.0" stroke="#b8a9aa" stroke-width="1.5" opacity="0.62"/><line x1="387.3" y1="207.0" x2="387.3" y2="232.0" stroke="#5e5a5b" stroke-width="0.75" opacity="0.85"/><line x1="389.0" y1="206.6" x2="389.0" y2="220.4" stroke="#7ccbbd" stroke-width="1.5" opacity="0.62"/><line x1="389.0" y1="202.0" x2="389.0" y2="225.0" stroke="#27907c" stroke-width="0.75" opacity="0.85"/><line x1="390.5" y1="209.0" x2="390.5" y2="221.0" stroke="#b8a9aa" stroke-width="1.5" opacity="0.62"/><line x1="390.5" y1="205.0" x2="390.5" y2="225.0" stroke="#5e5a5b" stroke-width="0.75" opacity="0.85"/><line x1="391.6" y1="202.0" x2="391.6" y2="217.0" stroke="#7ccbbd" stroke-width="1.5" opacity="0.62"/><line x1="391.6" y1="197.0" x2="391.6" y2="222.0" stroke="#27907c" stroke-width="0.75" opacity="0.85"/><line x1="392.6" y1="178.0" x2="392.6" y2="187.0" stroke="#7ccbbd" stroke-width="1.5" opacity="0.62"/><line x1="392.6" y1="175.0" x2="392.6" y2="190.0" stroke="#27907c" stroke-width="0.75" opacity="0.85"/><line x1="394.5" y1="169.6" x2="394.5" y2="177.4" stroke="#7ccbbd" stroke-width="1.5" opacity="0.62"/><line x1="394.5" y1="167.0" x2="394.5" y2="180.0" stroke="#27907c" stroke-width="0.75" opacity="0.85"/><line x1="396.0" y1="182.0" x2="396.0" y2="188.0" stroke="#b8a9aa" stroke-width="1.5" opacity="0.62"/><line x1="396.0" y1="180.0" x2="396.0" y2="190.0" stroke="#5e5a5b" stroke-width="0.75" opacity="0.85"/><line x1="397.5" y1="185.2" x2="397.5" y2="194.8" stroke="#7ccbbd" stroke-width="1.5" opacity="0.62"/><line x1="397.5" y1="182.0" x2="397.5" y2="198.0" stroke="#27907c" stroke-width="0.75" opacity="0.85"/><line x1="399.0" y1="189.2" x2="399.0" y2="195.8" stroke="#f5949d" stroke-width="1.5" opacity="0.62"/><line x1="399.0" y1="187.0" x2="399.0" y2="198.0" stroke="#e04857" stroke-width="0.75" opacity="0.85"/><line x1="400.0" y1="189.8" x2="400.0" y2="195.2" stroke="#b8a9aa" stroke-width="1.5" opacity="0.62"/><line x1="400.0" y1="188.0" x2="400.0" y2="197.0" stroke="#5e5a5b" stroke-width="0.75" opacity="0.85"/><line x1="401.5" y1="178.6" x2="401.5" y2="189.4" stroke="#7ccbbd" stroke-width="1.5" opacity="0.62"/><line x1="401.5" y1="175.0" x2="401.5" y2="193.0" stroke="#27907c" stroke-width="0.75" opacity="0.85"/><line x1="402.7" y1="167.8" x2="402.7" y2="182.2" stroke="#7ccbbd" stroke-width="1.5" opacity="0.62"/><line x1="402.7" y1="163.0" x2="402.7" y2="187.0" stroke="#27907c" stroke-width="0.75" opacity="0.85"/><line x1="404.0" y1="143.4" x2="404.0" y2="153.6" stroke="#f5949d" stroke-width="1.5" opacity="0.62"/><line x1="404.0" y1="140.0" x2="404.0" y2="157.0" stroke="#e04857" stroke-width="0.75" opacity="0.85"/><line x1="405.5" y1="163.2" x2="405.5" y2="181.8" stroke="#f5949d" stroke-width="1.5" opacity="0.62"/><line x1="405.5" y1="157.0" x2="405.5" y2="188.0" stroke="#e04857" stroke-width="0.75" opacity="0.85"/><line x1="406.5" y1="175.7" x2="406.5" y2="185.3" stroke="#f5949d" stroke-width="1.5" opacity="0.62"/><line x1="406.5" y1="172.5" x2="406.5" y2="188.5" stroke="#e04857" stroke-width="0.75" opacity="0.85"/><line x1="407.5" y1="179.6" x2="407.5" y2="196.4" stroke="#7ccbbd" stroke-width="1.5" opacity="0.62"/><line x1="407.5" y1="174.0" x2="407.5" y2="202.0" stroke="#27907c" stroke-width="0.75" opacity="0.85"/><line x1="408.5" y1="177.8" x2="408.5" y2="185.8" stroke="#7ccbbd" stroke-width="1.5" opacity="0.62"/><line x1="408.5" y1="175.1" x2="408.5" y2="188.4" stroke="#27907c" stroke-width="0.75" opacity="0.85"/><line x1="409.5" y1="170.6" x2="409.5" y2="181.4" stroke="#b8a9aa" stroke-width="1.5" opacity="0.62"/><line x1="409.5" y1="167.0" x2="409.5" y2="185.0" stroke="#5e5a5b" stroke-width="0.75" opacity="0.85"/><line x1="411.0" y1="150.2" x2="411.0" y2="174.8" stroke="#7ccbbd" stroke-width="1.5" opacity="0.62"/><line x1="411.0" y1="142.0" x2="411.0" y2="183.0" stroke="#27907c" stroke-width="0.75" opacity="0.85"/><line x1="412.3" y1="145.0" x2="412.3" y2="154.0" stroke="#7ccbbd" stroke-width="1.5" opacity="0.62"/><line x1="412.3" y1="142.0" x2="412.3" y2="157.0" stroke="#27907c" stroke-width="0.75" opacity="0.85"/><line x1="413.7" y1="143.8" x2="413.7" y2="152.2" stroke="#b8a9aa" stroke-width="1.5" opacity="0.62"/><line x1="413.7" y1="141.0" x2="413.7" y2="155.0" stroke="#5e5a5b" stroke-width="0.75" opacity="0.85"/><line x1="415.0" y1="143.8" x2="415.0" y2="152.2" stroke="#f5949d" stroke-width="1.5" opacity="0.62"/><line x1="415.0" y1="141.0" x2="415.0" y2="155.0" stroke="#e04857" stroke-width="0.75" opacity="0.85"/><line x1="416.0" y1="141.7" x2="416.0" y2="147.4" stroke="#7ccbbd" stroke-width="1.5" opacity="0.62"/><line x1="416.0" y1="139.8" x2="416.0" y2="149.3" stroke="#27907c" stroke-width="0.75" opacity="0.85"/><line x1="417.0" y1="135.2" x2="417.0" y2="144.8" stroke="#7ccbbd" stroke-width="1.5" opacity="0.62"/><line x1="417.0" y1="132.0" x2="417.0" y2="148.0" stroke="#27907c" stroke-width="0.75" opacity="0.85"/><line x1="418.5" y1="130.0" x2="418.5" y2="139.0" stroke="#b8a9aa" stroke-width="1.5" opacity="0.62"/><line x1="418.5" y1="127.0" x2="418.5" y2="142.0" stroke="#5e5a5b" stroke-width="0.75" opacity="0.85"/><line x1="419.5" y1="129.4" x2="419.5" y2="133.6" stroke="#7ccbbd" stroke-width="1.5" opacity="0.62"/><line x1="419.5" y1="128.0" x2="419.5" y2="135.0" stroke="#27907c" stroke-width="0.75" opacity="0.85"/><line x1="420.5" y1="123.0" x2="420.5" y2="132.0" stroke="#7ccbbd" stroke-width="1.5" opacity="0.62"/><line x1="420.5" y1="120.0" x2="420.5" y2="135.0" stroke="#27907c" stroke-width="0.75" opacity="0.85"/><line x1="422.0" y1="127.4" x2="422.0" y2="134.6" stroke="#f5949d" stroke-width="1.5" opacity="0.62"/><line x1="422.0" y1="125.0" x2="422.0" y2="137.0" stroke="#e04857" stroke-width="0.75" opacity="0.85"/><line x1="423.2" y1="127.4" x2="423.2" y2="131.6" stroke="#f5949d" stroke-width="1.5" opacity="0.62"/><line x1="423.2" y1="126.0" x2="423.2" y2="133.0" stroke="#e04857" stroke-width="0.75" opacity="0.85"/><line x1="424.5" y1="124.2" x2="424.5" y2="130.8" stroke="#f5949d" stroke-width="1.5" opacity="0.62"/><line x1="424.5" y1="122.0" x2="424.5" y2="133.0" stroke="#e04857" stroke-width="0.75" opacity="0.85"/><line x1="426.3" y1="134.8" x2="426.3" y2="143.2" stroke="#f5949d" stroke-width="1.5" opacity="0.62"/><line x1="426.3" y1="132.0" x2="426.3" y2="146.0" stroke="#e04857" stroke-width="0.75" opacity="0.85"/><line x1="427.3" y1="172.6" x2="427.3" y2="195.4" stroke="#f5949d" stroke-width="1.5" opacity="0.62"/><line x1="427.3" y1="165.0" x2="427.3" y2="203.0" stroke="#e04857" stroke-width="0.75" opacity="0.85"/><line x1="428.5" y1="176.2" x2="428.5" y2="188.8" stroke="#f5949d" stroke-width="1.5" opacity="0.62"/><line x1="428.5" y1="172.0" x2="428.5" y2="193.0" stroke="#e04857" stroke-width="0.75" opacity="0.85"/><line x1="430.0" y1="187.6" x2="430.0" y2="201.4" stroke="#f5949d" stroke-width="1.5" opacity="0.62"/><line x1="430.0" y1="183.0" x2="430.0" y2="206.0" stroke="#e04857" stroke-width="0.75" opacity="0.85"/><line x1="431.5" y1="186.2" x2="431.5" y2="192.8" stroke="#7ccbbd" stroke-width="1.5" opacity="0.62"/><line x1="431.5" y1="184.0" x2="431.5" y2="195.0" stroke="#27907c" stroke-width="0.75" opacity="0.85"/><line x1="433.0" y1="182.0" x2="433.0" y2="188.0" stroke="#7ccbbd" stroke-width="1.5" opacity="0.62"/><line x1="433.0" y1="180.0" x2="433.0" y2="190.0" stroke="#27907c" stroke-width="0.75" opacity="0.85"/><line x1="434.5" y1="172.8" x2="434.5" y2="184.2" stroke="#7ccbbd" stroke-width="1.5" opacity="0.62"/><line x1="434.5" y1="169.0" x2="434.5" y2="188.0" stroke="#27907c" stroke-width="0.75" opacity="0.85"/><line x1="436.0" y1="184.6" x2="436.0" y2="192.4" stroke="#b8a9aa" stroke-width="1.5" opacity="0.62"/><line x1="436.0" y1="182.0" x2="436.0" y2="195.0" stroke="#5e5a5b" stroke-width="0.75" opacity="0.85"/><line x1="437.5" y1="185.0" x2="437.5" y2="194.0" stroke="#b8a9aa" stroke-width="1.5" opacity="0.62"/><line x1="437.5" y1="182.0" x2="437.5" y2="197.0" stroke="#5e5a5b" stroke-width="0.75" opacity="0.85"/><line x1="438.7" y1="190.2" x2="438.7" y2="199.8" stroke="#7ccbbd" stroke-width="1.5" opacity="0.62"/><line x1="438.7" y1="187.0" x2="438.7" y2="203.0" stroke="#27907c" stroke-width="0.75" opacity="0.85"/><line x1="440.0" y1="187.0" x2="440.0" y2="193.0" stroke="#b8a9aa" stroke-width="1.5" opacity="0.62"/><line x1="440.0" y1="185.0" x2="440.0" y2="195.0" stroke="#5e5a5b" stroke-width="0.75" opacity="0.85"/><line x1="441.5" y1="189.4" x2="441.5" y2="196.6" stroke="#b8a9aa" stroke-width="1.5" opacity="0.62"/><line x1="441.5" y1="187.0" x2="441.5" y2="199.0" stroke="#5e5a5b" stroke-width="0.75" opacity="0.85"/><line x1="443.0" y1="180.4" x2="443.0" y2="187.6" stroke="#b8a9aa" stroke-width="1.5" opacity="0.62"/><line x1="443.0" y1="178.0" x2="443.0" y2="190.0" stroke="#5e5a5b" stroke-width="0.75" opacity="0.85"/><line x1="444.5" y1="169.6" x2="444.5" y2="177.4" stroke="#7ccbbd" stroke-width="1.5" opacity="0.62"/><line x1="444.5" y1="167.0" x2="444.5" y2="180.0" stroke="#27907c" stroke-width="0.75" opacity="0.85"/><line x1="446.0" y1="158.6" x2="446.0" y2="169.4" stroke="#7ccbbd" stroke-width="1.5" opacity="0.62"/><line x1="446.0" y1="155.0" x2="446.0" y2="173.0" stroke="#27907c" stroke-width="0.75" opacity="0.85"/><line x1="447.5" y1="153.6" x2="447.5" y2="158.4" stroke="#7ccbbd" stroke-width="1.5" opacity="0.62"/><line x1="447.5" y1="152.0" x2="447.5" y2="160.0" stroke="#27907c" stroke-width="0.75" opacity="0.85"/><line x1="449.0" y1="143.6" x2="449.0" y2="154.4" stroke="#f5949d" stroke-width="1.5" opacity="0.62"/><line x1="449.0" y1="140.0" x2="449.0" y2="158.0" stroke="#e04857" stroke-width="0.75" opacity="0.85"/><line x1="450.3" y1="151.8" x2="450.3" y2="163.2" stroke="#f5949d" stroke-width="1.5" opacity="0.62"/><line x1="450.3" y1="148.0" x2="450.3" y2="167.0" stroke="#e04857" stroke-width="0.75" opacity="0.85"/><line x1="451.3" y1="162.4" x2="451.3" y2="169.6" stroke="#f5949d" stroke-width="1.5" opacity="0.62"/><line x1="451.3" y1="160.0" x2="451.3" y2="172.0" stroke="#e04857" stroke-width="0.75" opacity="0.85"/><line x1="452.6" y1="148.4" x2="452.6" y2="164.6" stroke="#7ccbbd" stroke-width="1.5" opacity="0.62"/><line x1="452.6" y1="143.0" x2="452.6" y2="170.0" stroke="#27907c" stroke-width="0.75" opacity="0.85"/><line x1="454.0" y1="131.8" x2="454.0" y2="140.2" stroke="#7ccbbd" stroke-width="1.5" opacity="0.62"/><line x1="454.0" y1="129.0" x2="454.0" y2="143.0" stroke="#27907c" stroke-width="0.75" opacity="0.85"/><line x1="455.5" y1="128.0" x2="455.5" y2="137.0" stroke="#7ccbbd" stroke-width="1.5" opacity="0.62"/><line x1="455.5" y1="125.0" x2="455.5" y2="140.0" stroke="#27907c" stroke-width="0.75" opacity="0.85"/><line x1="457.0" y1="120.0" x2="457.0" y2="132.0" stroke="#b8a9aa" stroke-width="1.5" opacity="0.62"/><line x1="457.0" y1="116.0" x2="457.0" y2="136.0" stroke="#5e5a5b" stroke-width="0.75" opacity="0.85"/><line x1="458.5" y1="136.6" x2="458.5" y2="141.4" stroke="#f5949d" stroke-width="1.5" opacity="0.62"/><line x1="458.5" y1="135.0" x2="458.5" y2="143.0" stroke="#e04857" stroke-width="0.75" opacity="0.85"/><line x1="459.5" y1="141.2" x2="459.5" y2="147.5" stroke="#f5949d" stroke-width="1.5" opacity="0.62"/><line x1="459.5" y1="139.0" x2="459.5" y2="149.6" stroke="#e04857" stroke-width="0.75" opacity="0.85"/><line x1="460.5" y1="142.0" x2="460.5" y2="154.0" stroke="#f5949d" stroke-width="1.5" opacity="0.62"/><line x1="460.5" y1="138.0" x2="460.5" y2="158.0" stroke="#e04857" stroke-width="0.75" opacity="0.85"/><line x1="462.0" y1="151.4" x2="462.0" y2="161.6" stroke="#f5949d" stroke-width="1.5" opacity="0.62"/><line x1="462.0" y1="148.0" x2="462.0" y2="165.0" stroke="#e04857" stroke-width="0.75" opacity="0.85"/><line x1="463.0" y1="163.4" x2="463.0" y2="179.6" stroke="#f5949d" stroke-width="1.5" opacity="0.62"/><line x1="463.0" y1="158.0" x2="463.0" y2="185.0" stroke="#e04857" stroke-width="0.75" opacity="0.85"/><line x1="464.2" y1="178.0" x2="464.2" y2="187.0" stroke="#f5949d" stroke-width="1.5" opacity="0.62"/><line x1="464.2" y1="175.0" x2="464.2" y2="190.0" stroke="#e04857" stroke-width="0.75" opacity="0.85"/><line x1="465.5" y1="179.0" x2="465.5" y2="191.0" stroke="#b8a9aa" stroke-width="1.5" opacity="0.62"/><line x1="465.5" y1="175.0" x2="465.5" y2="195.0" stroke="#5e5a5b" stroke-width="0.75" opacity="0.85"/><line x1="467.0" y1="177.6" x2="467.0" y2="188.4" stroke="#f5949d" stroke-width="1.5" opacity="0.62"/><line x1="467.0" y1="174.0" x2="467.0" y2="192.0" stroke="#e04857" stroke-width="0.75" opacity="0.85"/><line x1="468.5" y1="190.0" x2="468.5" y2="211.0" stroke="#f5949d" stroke-width="1.5" opacity="0.62"/><line x1="468.5" y1="183.0" x2="468.5" y2="218.0" stroke="#e04857" stroke-width="0.75" opacity="0.85"/><line x1="470.0" y1="187.2" x2="470.0" y2="202.8" stroke="#b8a9aa" stroke-width="1.5" opacity="0.62"/><line x1="470.0" y1="182.0" x2="470.0" y2="208.0" stroke="#5e5a5b" stroke-width="0.75" opacity="0.85"/><line x1="471.5" y1="189.0" x2="471.5" y2="207.0" stroke="#b8a9aa" stroke-width="1.5" opacity="0.62"/><line x1="471.5" y1="183.0" x2="471.5" y2="213.0" stroke="#5e5a5b" stroke-width="0.75" opacity="0.85"/><line x1="472.5" y1="194.4" x2="472.5" y2="204.5" stroke="#f5949d" stroke-width="1.5" opacity="0.62"/><line x1="472.5" y1="191.0" x2="472.5" y2="207.8" stroke="#e04857" stroke-width="0.75" opacity="0.85"/><line x1="473.5" y1="193.4" x2="473.5" y2="209.6" stroke="#b8a9aa" stroke-width="1.5" opacity="0.62"/><line x1="473.5" y1="188.0" x2="473.5" y2="215.0" stroke="#5e5a5b" stroke-width="0.75" opacity="0.85"/><line x1="475.5" y1="169.2" x2="475.5" y2="178.8" stroke="#7ccbbd" stroke-width="1.5" opacity="0.62"/><line x1="475.5" y1="166.0" x2="475.5" y2="182.0" stroke="#27907c" stroke-width="0.75" opacity="0.85"/><line x1="477.0" y1="167.4" x2="477.0" y2="186.6" stroke="#f5949d" stroke-width="1.5" opacity="0.62"/><line x1="477.0" y1="161.0" x2="477.0" y2="193.0" stroke="#e04857" stroke-width="0.75" opacity="0.85"/><line x1="478.5" y1="170.2" x2="478.5" y2="179.8" stroke="#f5949d" stroke-width="1.5" opacity="0.62"/><line x1="478.5" y1="167.0" x2="478.5" y2="183.0" stroke="#e04857" stroke-width="0.75" opacity="0.85"/><line x1="480.0" y1="164.8" x2="480.0" y2="176.2" stroke="#7ccbbd" stroke-width="1.5" opacity="0.62"/><line x1="480.0" y1="161.0" x2="480.0" y2="180.0" stroke="#27907c" stroke-width="0.75" opacity="0.85"/><line x1="481.2" y1="176.0" x2="481.2" y2="194.0" stroke="#f5949d" stroke-width="1.5" opacity="0.62"/><line x1="481.2" y1="170.0" x2="481.2" y2="200.0" stroke="#e04857" stroke-width="0.75" opacity="0.85"/><line x1="482.5" y1="196.0" x2="482.5" y2="205.0" stroke="#f5949d" stroke-width="1.5" opacity="0.62"/><line x1="482.5" y1="193.0" x2="482.5" y2="208.0" stroke="#e04857" stroke-width="0.75" opacity="0.85"/><line x1="484.0" y1="210.0" x2="484.0" y2="219.0" stroke="#b8a9aa" stroke-width="1.5" opacity="0.62"/><line x1="484.0" y1="207.0" x2="484.0" y2="222.0" stroke="#5e5a5b" stroke-width="0.75" opacity="0.85"/><line x1="485.5" y1="210.8" x2="485.5" y2="219.2" stroke="#b8a9aa" stroke-width="1.5" opacity="0.62"/><line x1="485.5" y1="208.0" x2="485.5" y2="222.0" stroke="#5e5a5b" stroke-width="0.75" opacity="0.85"/><line x1="487.0" y1="213.6" x2="487.0" y2="218.4" stroke="#b8a9aa" stroke-width="1.5" opacity="0.62"/><line x1="487.0" y1="212.0" x2="487.0" y2="220.0" stroke="#5e5a5b" stroke-width="0.75" opacity="0.85"/><line x1="488.5" y1="206.6" x2="488.5" y2="214.4" stroke="#7ccbbd" stroke-width="1.5" opacity="0.62"/><line x1="488.5" y1="204.0" x2="488.5" y2="217.0" stroke="#27907c" stroke-width="0.75" opacity="0.85"/><line x1="490.0" y1="200.0" x2="490.0" y2="206.0" stroke="#7ccbbd" stroke-width="1.5" opacity="0.62"/><line x1="490.0" y1="198.0" x2="490.0" y2="208.0" stroke="#27907c" stroke-width="0.75" opacity="0.85"/><line x1="491.5" y1="191.8" x2="491.5" y2="200.2" stroke="#7ccbbd" stroke-width="1.5" opacity="0.62"/><line x1="491.5" y1="189.0" x2="491.5" y2="203.0" stroke="#27907c" stroke-width="0.75" opacity="0.85"/><line x1="492.8" y1="174.4" x2="492.8" y2="187.6" stroke="#7ccbbd" stroke-width="1.5" opacity="0.62"/><line x1="492.8" y1="170.0" x2="492.8" y2="192.0" stroke="#27907c" stroke-width="0.75" opacity="0.85"/><line x1="493.6" y1="152.2" x2="493.6" y2="161.8" stroke="#7ccbbd" stroke-width="1.5" opacity="0.62"/><line x1="493.6" y1="149.0" x2="493.6" y2="165.0" stroke="#27907c" stroke-width="0.75" opacity="0.85"/><line x1="494.6" y1="158.8" x2="494.6" y2="167.2" stroke="#f5949d" stroke-width="1.5" opacity="0.62"/><line x1="494.6" y1="156.0" x2="494.6" y2="170.0" stroke="#e04857" stroke-width="0.75" opacity="0.85"/><line x1="495.6" y1="239.6" x2="495.6" y2="277.4" stroke="#f5949d" stroke-width="1.5" opacity="0.62"/><line x1="495.6" y1="227.0" x2="495.6" y2="290.0" stroke="#e04857" stroke-width="0.75" opacity="0.85"/><line x1="496.7" y1="274.8" x2="496.7" y2="292.2" stroke="#7ccbbd" stroke-width="1.5" opacity="0.62"/><line x1="496.7" y1="269.0" x2="496.7" y2="298.0" stroke="#27907c" stroke-width="0.75" opacity="0.85"/><line x1="498.0" y1="251.6" x2="498.0" y2="265.4" stroke="#7ccbbd" stroke-width="1.5" opacity="0.62"/><line x1="498.0" y1="247.0" x2="498.0" y2="270.0" stroke="#27907c" stroke-width="0.75" opacity="0.85"/><line x1="499.5" y1="244.4" x2="499.5" y2="257.6" stroke="#7ccbbd" stroke-width="1.5" opacity="0.62"/><line x1="499.5" y1="240.0" x2="499.5" y2="262.0" stroke="#27907c" stroke-width="0.75" opacity="0.85"/><line x1="501.0" y1="226.2" x2="501.0" y2="238.8" stroke="#7ccbbd" stroke-width="1.5" opacity="0.62"/><line x1="501.0" y1="222.0" x2="501.0" y2="243.0" stroke="#27907c" stroke-width="0.75" opacity="0.85"/><line x1="502.7" y1="224.6" x2="502.7" y2="232.4" stroke="#b8a9aa" stroke-width="1.5" opacity="0.62"/><line x1="502.7" y1="222.0" x2="502.7" y2="235.0" stroke="#5e5a5b" stroke-width="0.75" opacity="0.85"/><line x1="504.0" y1="226.0" x2="504.0" y2="235.0" stroke="#7ccbbd" stroke-width="1.5" opacity="0.62"/><line x1="504.0" y1="223.0" x2="504.0" y2="238.0" stroke="#27907c" stroke-width="0.75" opacity="0.85"/><line x1="505.5" y1="214.2" x2="505.5" y2="220.8" stroke="#b8a9aa" stroke-width="1.5" opacity="0.62"/><line x1="505.5" y1="212.0" x2="505.5" y2="223.0" stroke="#5e5a5b" stroke-width="0.75" opacity="0.85"/><line x1="507.0" y1="215.4" x2="507.0" y2="222.6" stroke="#f5949d" stroke-width="1.5" opacity="0.62"/><line x1="507.0" y1="213.0" x2="507.0" y2="225.0" stroke="#e04857" stroke-width="0.75" opacity="0.85"/><line x1="508.5" y1="226.0" x2="508.5" y2="235.0" stroke="#f5949d" stroke-width="1.5" opacity="0.62"/><line x1="508.5" y1="223.0" x2="508.5" y2="238.0" stroke="#e04857" stroke-width="0.75" opacity="0.85"/><line x1="510.0" y1="233.8" x2="510.0" y2="242.2" stroke="#f5949d" stroke-width="1.5" opacity="0.62"/><line x1="510.0" y1="231.0" x2="510.0" y2="245.0" stroke="#e04857" stroke-width="0.75" opacity="0.85"/><line x1="511.2" y1="238.0" x2="511.2" y2="247.0" stroke="#b8a9aa" stroke-width="1.5" opacity="0.62"/><line x1="511.2" y1="235.0" x2="511.2" y2="250.0" stroke="#5e5a5b" stroke-width="0.75" opacity="0.85"/><line x1="512.4" y1="223.4" x2="512.4" y2="233.6" stroke="#7ccbbd" stroke-width="1.5" opacity="0.62"/><line x1="512.4" y1="220.0" x2="512.4" y2="237.0" stroke="#27907c" stroke-width="0.75" opacity="0.85"/><line x1="513.6" y1="231.6" x2="513.6" y2="239.4" stroke="#f5949d" stroke-width="1.5" opacity="0.62"/><line x1="513.6" y1="229.0" x2="513.6" y2="242.0" stroke="#e04857" stroke-width="0.75" opacity="0.85"/><line x1="515.0" y1="241.6" x2="515.0" y2="255.4" stroke="#f5949d" stroke-width="1.5" opacity="0.62"/><line x1="515.0" y1="237.0" x2="515.0" y2="260.0" stroke="#e04857" stroke-width="0.75" opacity="0.85"/><line x1="516.2" y1="259.2" x2="516.2" y2="265.8" stroke="#f5949d" stroke-width="1.5" opacity="0.62"/><line x1="516.2" y1="257.0" x2="516.2" y2="268.0" stroke="#e04857" stroke-width="0.75" opacity="0.85"/><line x1="517.5" y1="255.6" x2="517.5" y2="260.4" stroke="#7ccbbd" stroke-width="1.5" opacity="0.62"/><line x1="517.5" y1="254.0" x2="517.5" y2="262.0" stroke="#27907c" stroke-width="0.75" opacity="0.85"/><line x1="519.0" y1="252.0" x2="519.0" y2="258.0" stroke="#7ccbbd" stroke-width="1.5" opacity="0.62"/><line x1="519.0" y1="250.0" x2="519.0" y2="260.0" stroke="#27907c" stroke-width="0.75" opacity="0.85"/><line x1="520.4" y1="238.6" x2="520.4" y2="249.4" stroke="#7ccbbd" stroke-width="1.5" opacity="0.62"/><line x1="520.4" y1="235.0" x2="520.4" y2="253.0" stroke="#27907c" stroke-width="0.75" opacity="0.85"/><line x1="521.5" y1="227.6" x2="521.5" y2="235.4" stroke="#7ccbbd" stroke-width="1.5" opacity="0.62"/><line x1="521.5" y1="225.0" x2="521.5" y2="238.0" stroke="#27907c" stroke-width="0.75" opacity="0.85"/><line x1="523.0" y1="222.0" x2="523.0" y2="228.0" stroke="#f5949d" stroke-width="1.5" opacity="0.62"/><line x1="523.0" y1="220.0" x2="523.0" y2="230.0" stroke="#e04857" stroke-width="0.75" opacity="0.85"/><line x1="524.0" y1="226.0" x2="524.0" y2="229.9" stroke="#f5949d" stroke-width="1.5" opacity="0.62"/><line x1="524.0" y1="224.7" x2="524.0" y2="231.1" stroke="#e04857" stroke-width="0.75" opacity="0.85"/><line x1="525.0" y1="228.4" x2="525.0" y2="238.6" stroke="#f5949d" stroke-width="1.5" opacity="0.62"/><line x1="525.0" y1="225.0" x2="525.0" y2="242.0" stroke="#e04857" stroke-width="0.75" opacity="0.85"/><line x1="526.8" y1="232.0" x2="526.8" y2="238.0" stroke="#7ccbbd" stroke-width="1.5" opacity="0.62"/><line x1="526.8" y1="230.0" x2="526.8" y2="240.0" stroke="#27907c" stroke-width="0.75" opacity="0.85"/><line x1="528.0" y1="219.2" x2="528.0" y2="225.8" stroke="#7ccbbd" stroke-width="1.5" opacity="0.62"/><line x1="528.0" y1="217.0" x2="528.0" y2="228.0" stroke="#27907c" stroke-width="0.75" opacity="0.85"/><line x1="529.0" y1="219.1" x2="529.0" y2="222.4" stroke="#7ccbbd" stroke-width="1.5" opacity="0.62"/><line x1="529.0" y1="218.0" x2="529.0" y2="223.4" stroke="#27907c" stroke-width="0.75" opacity="0.85"/><line x1="530.0" y1="218.6" x2="530.0" y2="223.4" stroke="#b8a9aa" stroke-width="1.5" opacity="0.62"/><line x1="530.0" y1="217.0" x2="530.0" y2="225.0" stroke="#5e5a5b" stroke-width="0.75" opacity="0.85"/><line x1="531.0" y1="217.0" x2="531.0" y2="219.5" stroke="#f5949d" stroke-width="1.5" opacity="0.62"/><line x1="531.0" y1="216.1" x2="531.0" y2="220.4" stroke="#e04857" stroke-width="0.75" opacity="0.85"/><line x1="532.0" y1="215.8" x2="532.0" y2="221.2" stroke="#7ccbbd" stroke-width="1.5" opacity="0.62"/><line x1="532.0" y1="214.0" x2="532.0" y2="223.0" stroke="#27907c" stroke-width="0.75" opacity="0.85"/><line x1="533.3" y1="215.4" x2="533.3" y2="219.6" stroke="#7ccbbd" stroke-width="1.5" opacity="0.62"/><line x1="533.3" y1="214.0" x2="533.3" y2="221.0" stroke="#27907c" stroke-width="0.75" opacity="0.85"/><line x1="535.0" y1="222.4" x2="535.0" y2="229.6" stroke="#f5949d" stroke-width="1.5" opacity="0.62"/><line x1="535.0" y1="220.0" x2="535.0" y2="232.0" stroke="#e04857" stroke-width="0.75" opacity="0.85"/><line x1="536.5" y1="223.8" x2="536.5" y2="232.2" stroke="#f5949d" stroke-width="1.5" opacity="0.62"/><line x1="536.5" y1="221.0" x2="536.5" y2="235.0" stroke="#e04857" stroke-width="0.75" opacity="0.85"/><line x1="538.0" y1="230.4" x2="538.0" y2="237.6" stroke="#f5949d" stroke-width="1.5" opacity="0.62"/><line x1="538.0" y1="228.0" x2="538.0" y2="240.0" stroke="#e04857" stroke-width="0.75" opacity="0.85"/><line x1="539.5" y1="240.2" x2="539.5" y2="249.8" stroke="#f5949d" stroke-width="1.5" opacity="0.62"/><line x1="539.5" y1="237.0" x2="539.5" y2="253.0" stroke="#e04857" stroke-width="0.75" opacity="0.85"/><line x1="541.0" y1="241.0" x2="541.0" y2="250.0" stroke="#f5949d" stroke-width="1.5" opacity="0.62"/><line x1="541.0" y1="238.0" x2="541.0" y2="253.0" stroke="#e04857" stroke-width="0.75" opacity="0.85"/><line x1="542.2" y1="252.6" x2="542.2" y2="260.4" stroke="#f5949d" stroke-width="1.5" opacity="0.62"/><line x1="542.2" y1="250.0" x2="542.2" y2="263.0" stroke="#e04857" stroke-width="0.75" opacity="0.85"/><line x1="543.5" y1="265.4" x2="543.5" y2="272.6" stroke="#7ccbbd" stroke-width="1.5" opacity="0.62"/><line x1="543.5" y1="263.0" x2="543.5" y2="275.0" stroke="#27907c" stroke-width="0.75" opacity="0.85"/><line x1="545.0" y1="264.4" x2="545.0" y2="271.6" stroke="#7ccbbd" stroke-width="1.5" opacity="0.62"/><line x1="545.0" y1="262.0" x2="545.0" y2="274.0" stroke="#27907c" stroke-width="0.75" opacity="0.85"/><line x1="546.4" y1="258.2" x2="546.4" y2="264.8" stroke="#7ccbbd" stroke-width="1.5" opacity="0.62"/><line x1="546.4" y1="256.0" x2="546.4" y2="267.0" stroke="#27907c" stroke-width="0.75" opacity="0.85"/><line x1="547.5" y1="254.0" x2="547.5" y2="266.0" stroke="#b8a9aa" stroke-width="1.5" opacity="0.62"/><line x1="547.5" y1="250.0" x2="547.5" y2="270.0" stroke="#5e5a5b" stroke-width="0.75" opacity="0.85"/><line x1="548.6" y1="256.4" x2="548.6" y2="269.6" stroke="#b8a9aa" stroke-width="1.5" opacity="0.62"/><line x1="548.6" y1="252.0" x2="548.6" y2="274.0" stroke="#5e5a5b" stroke-width="0.75" opacity="0.85"/><line x1="550.0" y1="246.8" x2="550.0" y2="255.2" stroke="#f5949d" stroke-width="1.5" opacity="0.62"/><line x1="550.0" y1="244.0" x2="550.0" y2="258.0" stroke="#e04857" stroke-width="0.75" opacity="0.85"/><line x1="551.5" y1="259.0" x2="551.5" y2="265.0" stroke="#f5949d" stroke-width="1.5" opacity="0.62"/><line x1="551.5" y1="257.0" x2="551.5" y2="267.0" stroke="#e04857" stroke-width="0.75" opacity="0.85"/><line x1="553.0" y1="260.8" x2="553.0" y2="266.2" stroke="#f5949d" stroke-width="1.5" opacity="0.62"/><line x1="553.0" y1="259.0" x2="553.0" y2="268.0" stroke="#e04857" stroke-width="0.75" opacity="0.85"/><line x1="554.2" y1="266.4" x2="554.2" y2="276.6" stroke="#f5949d" stroke-width="1.5" opacity="0.62"/><line x1="554.2" y1="263.0" x2="554.2" y2="280.0" stroke="#e04857" stroke-width="0.75" opacity="0.85"/><line x1="555.5" y1="267.8" x2="555.5" y2="276.2" stroke="#7ccbbd" stroke-width="1.5" opacity="0.62"/><line x1="555.5" y1="265.0" x2="555.5" y2="279.0" stroke="#27907c" stroke-width="0.75" opacity="0.85"/><line x1="556.5" y1="381.6" x2="556.5" y2="404.4" stroke="#f5949d" stroke-width="1.5" opacity="0.62"/><line x1="556.5" y1="374.0" x2="556.5" y2="412.0" stroke="#e04857" stroke-width="0.75" opacity="0.85"/><line x1="557.5" y1="407.8" x2="557.5" y2="422.2" stroke="#f5949d" stroke-width="1.5" opacity="0.62"/><line x1="557.5" y1="403.0" x2="557.5" y2="427.0" stroke="#e04857" stroke-width="0.75" opacity="0.85"/><line x1="559.0" y1="403.6" x2="559.0" y2="417.4" stroke="#b8a9aa" stroke-width="1.5" opacity="0.62"/><line x1="559.0" y1="399.0" x2="559.0" y2="422.0" stroke="#5e5a5b" stroke-width="0.75" opacity="0.85"/><line x1="560.4" y1="404.8" x2="560.4" y2="410.2" stroke="#7ccbbd" stroke-width="1.5" opacity="0.62"/><line x1="560.4" y1="403.0" x2="560.4" y2="412.0" stroke="#27907c" stroke-width="0.75" opacity="0.85"/><line x1="561.5" y1="392.6" x2="561.5" y2="400.4" stroke="#7ccbbd" stroke-width="1.5" opacity="0.62"/><line x1="561.5" y1="390.0" x2="561.5" y2="403.0" stroke="#27907c" stroke-width="0.75" opacity="0.85"/><line x1="563.0" y1="394.2" x2="563.0" y2="400.8" stroke="#7ccbbd" stroke-width="1.5" opacity="0.62"/><line x1="563.0" y1="392.0" x2="563.0" y2="403.0" stroke="#27907c" stroke-width="0.75" opacity="0.85"/><line x1="563.2" y1="405.8" x2="563.2" y2="411.2" stroke="#f5949d" stroke-width="1.5" opacity="0.62"/><line x1="563.2" y1="404.0" x2="563.2" y2="413.0" stroke="#e04857" stroke-width="0.75" opacity="0.85"/><line x1="564.5" y1="377.4" x2="564.5" y2="393.6" stroke="#7ccbbd" stroke-width="1.5" opacity="0.62"/><line x1="564.5" y1="372.0" x2="564.5" y2="399.0" stroke="#27907c" stroke-width="0.75" opacity="0.85"/><line x1="566.0" y1="375.0" x2="566.0" y2="381.0" stroke="#b8a9aa" stroke-width="1.5" opacity="0.62"/><line x1="566.0" y1="373.0" x2="566.0" y2="383.0" stroke="#5e5a5b" stroke-width="0.75" opacity="0.85"/><line x1="567.5" y1="369.8" x2="567.5" y2="375.2" stroke="#7ccbbd" stroke-width="1.5" opacity="0.62"/><line x1="567.5" y1="368.0" x2="567.5" y2="377.0" stroke="#27907c" stroke-width="0.75" opacity="0.85"/><line x1="569.0" y1="364.2" x2="569.0" y2="373.8" stroke="#7ccbbd" stroke-width="1.5" opacity="0.62"/><line x1="569.0" y1="361.0" x2="569.0" y2="377.0" stroke="#27907c" stroke-width="0.75" opacity="0.85"/><line x1="570.5" y1="364.0" x2="570.5" y2="370.0" stroke="#f5949d" stroke-width="1.5" opacity="0.62"/><line x1="570.5" y1="362.0" x2="570.5" y2="372.0" stroke="#e04857" stroke-width="0.75" opacity="0.85"/><line x1="572.3" y1="355.2" x2="572.3" y2="364.8" stroke="#7ccbbd" stroke-width="1.5" opacity="0.62"/><line x1="572.3" y1="352.0" x2="572.3" y2="368.0" stroke="#27907c" stroke-width="0.75" opacity="0.85"/><line x1="574.0" y1="345.2" x2="574.0" y2="354.8" stroke="#7ccbbd" stroke-width="1.5" opacity="0.62"/><line x1="574.0" y1="342.0" x2="574.0" y2="358.0" stroke="#27907c" stroke-width="0.75" opacity="0.85"/><line x1="575.5" y1="337.0" x2="575.5" y2="343.0" stroke="#7ccbbd" stroke-width="1.5" opacity="0.62"/><line x1="575.5" y1="335.0" x2="575.5" y2="345.0" stroke="#27907c" stroke-width="0.75" opacity="0.85"/><line x1="576.5" y1="332.8" x2="576.5" y2="338.2" stroke="#7ccbbd" stroke-width="1.5" opacity="0.62"/><line x1="576.5" y1="331.0" x2="576.5" y2="340.0" stroke="#27907c" stroke-width="0.75" opacity="0.85"/><line x1="577.5" y1="322.4" x2="577.5" y2="329.6" stroke="#7ccbbd" stroke-width="1.5" opacity="0.62"/><line x1="577.5" y1="320.0" x2="577.5" y2="332.0" stroke="#27907c" stroke-width="0.75" opacity="0.85"/><line x1="578.5" y1="308.0" x2="578.5" y2="317.0" stroke="#f5949d" stroke-width="1.5" opacity="0.62"/><line x1="578.5" y1="305.0" x2="578.5" y2="320.0" stroke="#e04857" stroke-width="0.75" opacity="0.85"/><line x1="579.6" y1="316.0" x2="579.6" y2="325.0" stroke="#f5949d" stroke-width="1.5" opacity="0.62"/><line x1="579.6" y1="313.0" x2="579.6" y2="328.0" stroke="#e04857" stroke-width="0.75" opacity="0.85"/><line x1="581.0" y1="306.2" x2="581.0" y2="318.8" stroke="#b8a9aa" stroke-width="1.5" opacity="0.62"/><line x1="581.0" y1="302.0" x2="581.0" y2="323.0" stroke="#5e5a5b" stroke-width="0.75" opacity="0.85"/><line x1="582.5" y1="305.2" x2="582.5" y2="314.8" stroke="#7ccbbd" stroke-width="1.5" opacity="0.62"/><line x1="582.5" y1="302.0" x2="582.5" y2="318.0" stroke="#27907c" stroke-width="0.75" opacity="0.85"/><line x1="584.0" y1="312.2" x2="584.0" y2="318.8" stroke="#b8a9aa" stroke-width="1.5" opacity="0.62"/><line x1="584.0" y1="310.0" x2="584.0" y2="321.0" stroke="#5e5a5b" stroke-width="0.75" opacity="0.85"/><line x1="585.5" y1="306.2" x2="585.5" y2="318.8" stroke="#7ccbbd" stroke-width="1.5" opacity="0.62"/><line x1="585.5" y1="302.0" x2="585.5" y2="323.0" stroke="#27907c" stroke-width="0.75" opacity="0.85"/><line x1="587.0" y1="315.6" x2="587.0" y2="326.4" stroke="#f5949d" stroke-width="1.5" opacity="0.62"/><line x1="587.0" y1="312.0" x2="587.0" y2="330.0" stroke="#e04857" stroke-width="0.75" opacity="0.85"/><line x1="588.2" y1="334.0" x2="588.2" y2="340.0" stroke="#f5949d" stroke-width="1.5" opacity="0.62"/><line x1="588.2" y1="332.0" x2="588.2" y2="342.0" stroke="#e04857" stroke-width="0.75" opacity="0.85"/><line x1="589.5" y1="342.0" x2="589.5" y2="348.0" stroke="#f5949d" stroke-width="1.5" opacity="0.62"/><line x1="589.5" y1="340.0" x2="589.5" y2="350.0" stroke="#e04857" stroke-width="0.75" opacity="0.85"/><line x1="591.0" y1="339.4" x2="591.0" y2="346.6" stroke="#b8a9aa" stroke-width="1.5" opacity="0.62"/><line x1="591.0" y1="337.0" x2="591.0" y2="349.0" stroke="#5e5a5b" stroke-width="0.75" opacity="0.85"/><line x1="592.5" y1="326.0" x2="592.5" y2="335.0" stroke="#7ccbbd" stroke-width="1.5" opacity="0.62"/><line x1="592.5" y1="323.0" x2="592.5" y2="338.0" stroke="#27907c" stroke-width="0.75" opacity="0.85"/><line x1="594.0" y1="317.0" x2="594.0" y2="323.0" stroke="#7ccbbd" stroke-width="1.5" opacity="0.62"/><line x1="594.0" y1="315.0" x2="594.0" y2="325.0" stroke="#27907c" stroke-width="0.75" opacity="0.85"/></g>
<polygon points="569.9,421.5 583.3,376.2 579.8,374.1 591.8,364.9 593.9,379.8 590.4,379.1" fill="#2457ea"/>
<circle cx="22" cy="480" r="6.2" fill="#fff" stroke="#4a6cdc" stroke-width="1.4"/><text x="22.1" y="483.3" font-size="9.2" font-weight="bold" fill="#5f84ea" text-anchor="middle" transform="translate(22 0) scale(0.88 1) translate(-22 0)">D</text>
<circle cx="85.5" cy="480" r="6.2" fill="#fff" stroke="#4a6cdc" stroke-width="1.4"/><text x="85.6" y="483.3" font-size="9.2" font-weight="bold" fill="#5f84ea" text-anchor="middle" transform="translate(85.5 0) scale(0.88 1) translate(-85.5 0)">D</text>
<circle cx="149" cy="480" r="6.2" fill="#fff" stroke="#4a6cdc" stroke-width="1.4"/><text x="149.1" y="483.3" font-size="9.2" font-weight="bold" fill="#5f84ea" text-anchor="middle" transform="translate(149 0) scale(0.88 1) translate(-149 0)">D</text>
<circle cx="213.3" cy="480" r="6.2" fill="#fff" stroke="#4a6cdc" stroke-width="1.4"/><text x="213.4" y="483.3" font-size="9.2" font-weight="bold" fill="#5f84ea" text-anchor="middle" transform="translate(213.3 0) scale(0.88 1) translate(-213.3 0)">D</text>
<circle cx="277.3" cy="480" r="6.2" fill="#fff" stroke="#4a6cdc" stroke-width="1.4"/><text x="277.40000000000003" y="483.3" font-size="9.2" font-weight="bold" fill="#5f84ea" text-anchor="middle" transform="translate(277.3 0) scale(0.88 1) translate(-277.3 0)">D</text>
<circle cx="341" cy="480" r="6.2" fill="#fff" stroke="#4a6cdc" stroke-width="1.4"/><text x="341.1" y="483.3" font-size="9.2" font-weight="bold" fill="#5f84ea" text-anchor="middle" transform="translate(341 0) scale(0.88 1) translate(-341 0)">D</text>
<circle cx="404" cy="480" r="6.2" fill="#fff" stroke="#4a6cdc" stroke-width="1.4"/><text x="404.1" y="483.3" font-size="9.2" font-weight="bold" fill="#5f84ea" text-anchor="middle" transform="translate(404 0) scale(0.88 1) translate(-404 0)">D</text>
<circle cx="468.3" cy="480" r="6.2" fill="#fff" stroke="#4a6cdc" stroke-width="1.4"/><text x="468.40000000000003" y="483.3" font-size="9.2" font-weight="bold" fill="#5f84ea" text-anchor="middle" transform="translate(468.3 0) scale(0.88 1) translate(-468.3 0)">D</text>
<circle cx="532.3" cy="480" r="6.2" fill="#fff" stroke="#4a6cdc" stroke-width="1.4"/><text x="532.4" y="483.3" font-size="9.2" font-weight="bold" fill="#5f84ea" text-anchor="middle" transform="translate(532.3 0) scale(0.88 1) translate(-532.3 0)">D</text>
<circle cx="594.3" cy="480" r="6.2" fill="#fff" stroke="#4a6cdc" stroke-width="1.4"/><text x="594.4" y="483.3" font-size="9.2" font-weight="bold" fill="#5f84ea" text-anchor="middle" transform="translate(594.3 0) scale(0.88 1) translate(-594.3 0)">D</text>
<path d="M41.0,476.8 L46.7,473.4 L52.400000000000006,476.8 L52.400000000000006,485.4 L41.0,485.4 Z" fill="#fff" stroke="#2f9f85" stroke-width="1.4" stroke-linejoin="round"/><text x="46.7" y="484.1" font-size="8.8" font-weight="bold" fill="#2f9f85" opacity="0.8" text-anchor="middle" transform="translate(46.7 0) scale(0.85 1) translate(-46.7 0)">E</text>
<path d="M103.3,476.8 L109,473.4 L114.7,476.8 L114.7,485.4 L103.3,485.4 Z" fill="#fff" stroke="#2f9f85" stroke-width="1.4" stroke-linejoin="round"/><text x="109" y="484.1" font-size="8.8" font-weight="bold" fill="#2f9f85" opacity="0.8" text-anchor="middle" transform="translate(109 0) scale(0.85 1) translate(-109 0)">E</text>
<path d="M167.60000000000002,476.8 L173.3,473.4 L179.0,476.8 L179.0,485.4 L167.60000000000002,485.4 Z" fill="#fff" stroke="#2f9f85" stroke-width="1.4" stroke-linejoin="round"/><text x="173.3" y="484.1" font-size="8.8" font-weight="bold" fill="#2f9f85" opacity="0.8" text-anchor="middle" transform="translate(173.3 0) scale(0.85 1) translate(-173.3 0)">E</text>
<path d="M232.0,476.8 L237.7,473.4 L243.39999999999998,476.8 L243.39999999999998,485.4 L232.0,485.4 Z" fill="#fff" stroke="#2f9f85" stroke-width="1.4" stroke-linejoin="round"/><text x="237.7" y="484.1" font-size="8.8" font-weight="bold" fill="#2f9f85" opacity="0.8" text-anchor="middle" transform="translate(237.7 0) scale(0.85 1) translate(-237.7 0)">E</text>
<path d="M361.6,476.8 L367.3,473.4 L373.0,476.8 L373.0,485.4 L361.6,485.4 Z" fill="#fff" stroke="#2f9f85" stroke-width="1.4" stroke-linejoin="round"/><text x="367.3" y="484.1" font-size="8.8" font-weight="bold" fill="#2f9f85" opacity="0.8" text-anchor="middle" transform="translate(367.3 0) scale(0.85 1) translate(-367.3 0)">E</text>
<path d="M421.0,476.8 L426.7,473.4 L432.4,476.8 L432.4,485.4 L421.0,485.4 Z" fill="#fff" stroke="#2f9f85" stroke-width="1.4" stroke-linejoin="round"/><text x="426.7" y="484.1" font-size="8.8" font-weight="bold" fill="#2f9f85" opacity="0.8" text-anchor="middle" transform="translate(426.7 0) scale(0.85 1) translate(-426.7 0)">E</text>
<path d="M489.6,476.8 L495.3,473.4 L501.0,476.8 L501.0,485.4 L489.6,485.4 Z" fill="#fff" stroke="#2f9f85" stroke-width="1.4" stroke-linejoin="round"/><text x="495.3" y="484.1" font-size="8.8" font-weight="bold" fill="#2f9f85" opacity="0.8" text-anchor="middle" transform="translate(495.3 0) scale(0.85 1) translate(-495.3 0)">E</text>
<path d="M294.3,473.8 L305.7,473.8 L305.7,481.6 L300,485.4 L294.3,481.6 Z" fill="#fff" stroke="#e2515f" stroke-width="1.4" stroke-linejoin="round"/><text x="300" y="482.6" font-size="8.8" font-weight="bold" fill="#e2515f" opacity="0.8" text-anchor="middle" transform="translate(300 0) scale(0.85 1) translate(-300 0)">E</text>
<path d="M551.0,473.8 L562.4000000000001,473.8 L562.4000000000001,481.6 L556.7,485.4 L551.0,481.6 Z" fill="#fff" stroke="#e2515f" stroke-width="1.4" stroke-linejoin="round"/><text x="556.7" y="482.6" font-size="8.8" font-weight="bold" fill="#e2515f" opacity="0.8" text-anchor="middle" transform="translate(556.7 0) scale(0.85 1) translate(-556.7 0)">E</text>
<rect x="610.7" y="474.2" width="11.6" height="11.6" rx="1" fill="#fff" stroke="#cf63e0" stroke-width="1.4"/><text x="616.5" y="483.2" font-size="8.8" font-weight="bold" fill="#cf63e0" opacity="0.8" text-anchor="middle" transform="translate(616.5 0) scale(0.85 1) translate(-616.5 0)">E</text>
<g fill="#1b1e27"><path d="M6.7,514.9 H12.5 V521 H9.2 V517.7 H6.7 Z"/><circle cx="13.9" cy="516.2" r="1.35"/><path d="M15.5,514.9 H19.4 L16.8,521 H13.0 Z"/></g>
</svg>
<div id="tline"></div>
<div id="usd"></div>
<span class="t" style="left:7.1px;top:4.85px;font-size:8.5px;font-weight:normal;color:#33363f;transform:scaleX(0.8538)">JS_TfA</span><span class="t" style="left:33.2px;top:4.85px;font-size:8.5px;font-weight:normal;color:#33363f;transform:scaleX(0.9331)">freigegeben</span><span class="t" style="left:78.0px;top:4.85px;font-size:8.5px;font-weight:normal;color:#33363f;transform:scaleX(0.9272)">für</span><span class="t" style="left:90.9px;top:4.85px;font-size:8.5px;font-weight:normal;color:#33363f;transform:scaleX(0.9136)">TradingView.com,</span><span class="t" style="left:155.9px;top:4.85px;font-size:8.5px;font-weight:normal;color:#33363f;transform:scaleX(0.8609)">Mrz</span><span class="t" style="left:171.9px;top:4.85px;font-size:8.5px;font-weight:normal;color:#33363f;transform:scaleX(0.7947)">30,</span><span class="t" style="left:185.0px;top:4.85px;font-size:8.5px;font-weight:normal;color:#33363f;transform:scaleX(0.7927)">2024</span><span class="t" style="left:203.8px;top:4.85px;font-size:8.5px;font-weight:normal;color:#33363f;transform:scaleX(0.8787)">12:35</span><span class="t" style="left:226.3px;top:4.85px;font-size:8.5px;font-weight:normal;color:#33363f;transform:scaleX(0.7581)">UTC+1</span><span class="t" style="left:12.3px;top:22.55px;font-size:8.5px;font-weight:normal;color:#33363f;transform:scaleX(0.9239)">Air</span><span class="t" style="left:24.5px;top:22.55px;font-size:8.5px;font-weight:normal;color:#33363f;transform:scaleX(0.9002)">Products</span><span class="t" style="left:57.6px;top:22.55px;font-size:8.5px;font-weight:normal;color:#33363f;transform:scaleX(0.8740)">and</span><span class="t" style="left:72.9px;top:22.55px;font-size:8.5px;font-weight:normal;color:#33363f;transform:scaleX(0.8491)">Chemicals,</span><span class="t" style="left:113.4px;top:22.55px;font-size:8.5px;font-weight:normal;color:#33363f;transform:scaleX(1.0210)">Inc.,</span><span class="t" style="left:133.2px;top:22.55px;font-size:8.5px;font-weight:normal;color:#33363f;transform:scaleX(0.7405)">1T,</span><span class="t" style="left:145.5px;top:22.55px;font-size:8.5px;font-weight:normal;color:#33363f;transform:scaleX(0.7212)">NYSE</span><span class="t" style="left:167.4px;top:22.55px;font-size:8.5px;font-weight:normal;color:#33363f;transform:scaleX(0.8800)">O</span><span class="t" style="left:172.9px;top:22.55px;font-size:8.5px;font-weight:normal;color:#26a08a;transform:scaleX(0.8962)">241.73</span><span class="t" style="left:201.3px;top:22.55px;font-size:8.5px;font-weight:normal;color:#33363f;transform:scaleX(0.8800)">H</span><span class="t" style="left:206.7px;top:22.55px;font-size:8.5px;font-weight:normal;color:#26a08a;transform:scaleX(0.8962)">243.45</span><span class="t" style="left:235.1px;top:22.55px;font-size:8.5px;font-weight:normal;color:#33363f;transform:scaleX(0.8800)">L</span><span class="t" style="left:239.5px;top:22.55px;font-size:8.5px;font-weight:normal;color:#26a08a;transform:scaleX(0.9000)">240.78</span><span class="t" style="left:267.2px;top:22.55px;font-size:8.5px;font-weight:normal;color:#33363f;transform:scaleX(0.8800)">C</span><span class="t" style="left:272.4px;top:22.55px;font-size:8.5px;font-weight:normal;color:#26a08a;transform:scaleX(0.9231)">242.27</span><span class="t" style="left:301.1px;top:22.55px;font-size:8.5px;font-weight:normal;color:#26a08a;transform:scaleX(0.8831)">+0.94</span><span class="t" style="left:323.5px;top:22.55px;font-size:8.5px;font-weight:normal;color:#26a08a;transform:scaleX(0.8579)">(+0.39%)</span><span class="t" style="left:923.0px;top:48.32px;font-size:8.6px;font-weight:normal;color:#33363f;transform:scaleX(0.9012)">320.00</span><span class="t" style="left:923.0px;top:82.57px;font-size:8.6px;font-weight:normal;color:#33363f;transform:scaleX(0.9012)">310.00</span><span class="t" style="left:923.0px;top:116.82px;font-size:8.6px;font-weight:normal;color:#33363f;transform:scaleX(0.9012)">300.00</span><span class="t" style="left:923.0px;top:151.07px;font-size:8.6px;font-weight:normal;color:#33363f;transform:scaleX(0.9012)">290.00</span><span class="t" style="left:923.0px;top:185.32px;font-size:8.6px;font-weight:normal;color:#33363f;transform:scaleX(0.9012)">280.00</span><span class="t" style="left:923.0px;top:219.57px;font-size:8.6px;font-weight:normal;color:#33363f;transform:scaleX(0.9012)">270.00</span><span class="t" style="left:923.0px;top:253.82px;font-size:8.6px;font-weight:normal;color:#33363f;transform:scaleX(0.9012)">260.00</span><span class="t" style="left:923.0px;top:288.07px;font-size:8.6px;font-weight:normal;color:#33363f;transform:scaleX(0.9012)">250.00</span><span class="t" style="left:923.0px;top:322.32px;font-size:8.6px;font-weight:normal;color:#33363f;transform:scaleX(0.9012)">240.00</span><span class="t" style="left:923.0px;top:356.57px;font-size:8.6px;font-weight:normal;color:#33363f;transform:scaleX(0.9012)">230.00</span><span class="t" style="left:923.0px;top:390.82px;font-size:8.6px;font-weight:normal;color:#33363f;transform:scaleX(0.9012)">220.00</span><span class="t" style="left:923.0px;top:425.07px;font-size:8.6px;font-weight:normal;color:#33363f;transform:scaleX(0.9012)">210.00</span><span class="t" style="left:923.0px;top:459.32px;font-size:8.6px;font-weight:normal;color:#33363f;transform:scaleX(0.9012)">200.00</span><span class="t" style="left:14.2px;top:492.72px;font-size:8.6px;font-weight:bold;color:#33363f;transform:scaleX(0.9203)">2022</span><span class="t" style="left:80.2px;top:492.72px;font-size:8.6px;font-weight:normal;color:#33363f;transform:scaleX(0.8598)">Apr</span><span class="t" style="left:144.5px;top:492.72px;font-size:8.6px;font-weight:normal;color:#33363f;transform:scaleX(0.8727)">Jul</span><span class="t" style="left:208.0px;top:492.72px;font-size:8.6px;font-weight:normal;color:#33363f;transform:scaleX(0.8972)">Okt</span><span class="t" style="left:269.2px;top:492.72px;font-size:8.6px;font-weight:bold;color:#33363f;transform:scaleX(0.9203)">2023</span><span class="t" style="left:335.8px;top:492.72px;font-size:8.6px;font-weight:normal;color:#33363f;transform:scaleX(0.8598)">Apr</span><span class="t" style="left:400.5px;top:492.72px;font-size:8.6px;font-weight:normal;color:#33363f;transform:scaleX(0.8182)">Jul</span><span class="t" style="left:463.0px;top:492.72px;font-size:8.6px;font-weight:normal;color:#33363f;transform:scaleX(0.8972)">Okt</span><span class="t" style="left:524.2px;top:492.72px;font-size:8.6px;font-weight:bold;color:#33363f;transform:scaleX(0.9203)">2024</span><span class="t" style="left:589.2px;top:492.72px;font-size:8.6px;font-weight:normal;color:#33363f;transform:scaleX(0.8598)">Apr</span><span class="t" style="left:654.5px;top:492.72px;font-size:8.6px;font-weight:normal;color:#33363f;transform:scaleX(0.8182)">Jul</span><span class="t" style="left:718.0px;top:492.72px;font-size:8.6px;font-weight:normal;color:#33363f;transform:scaleX(0.8972)">Okt</span><span class="t" style="left:780.7px;top:492.72px;font-size:8.6px;font-weight:bold;color:#33363f;transform:scaleX(0.9203)">2025</span><span class="t" style="left:845.2px;top:492.72px;font-size:8.6px;font-weight:normal;color:#33363f;transform:scaleX(0.8598)">Apr</span><span class="t" style="left:909.8px;top:492.72px;font-size:8.6px;font-weight:normal;color:#33363f;transform:scaleX(0.8151)">Ju</span><span class="t" style="left:22.4px;top:513.02px;font-size:8.3px;font-weight:normal;color:#33373f;transform:scaleX(1.0028)">TradingView</span><span class="t" style="left:926.7px;top:24.90px;font-size:7.8px;font-weight:normal;color:#33363f;transform:scaleX(0.8015)">USD</span>
<div id="apd">APD</div><div id="last">242.27</div>

</body></html>
